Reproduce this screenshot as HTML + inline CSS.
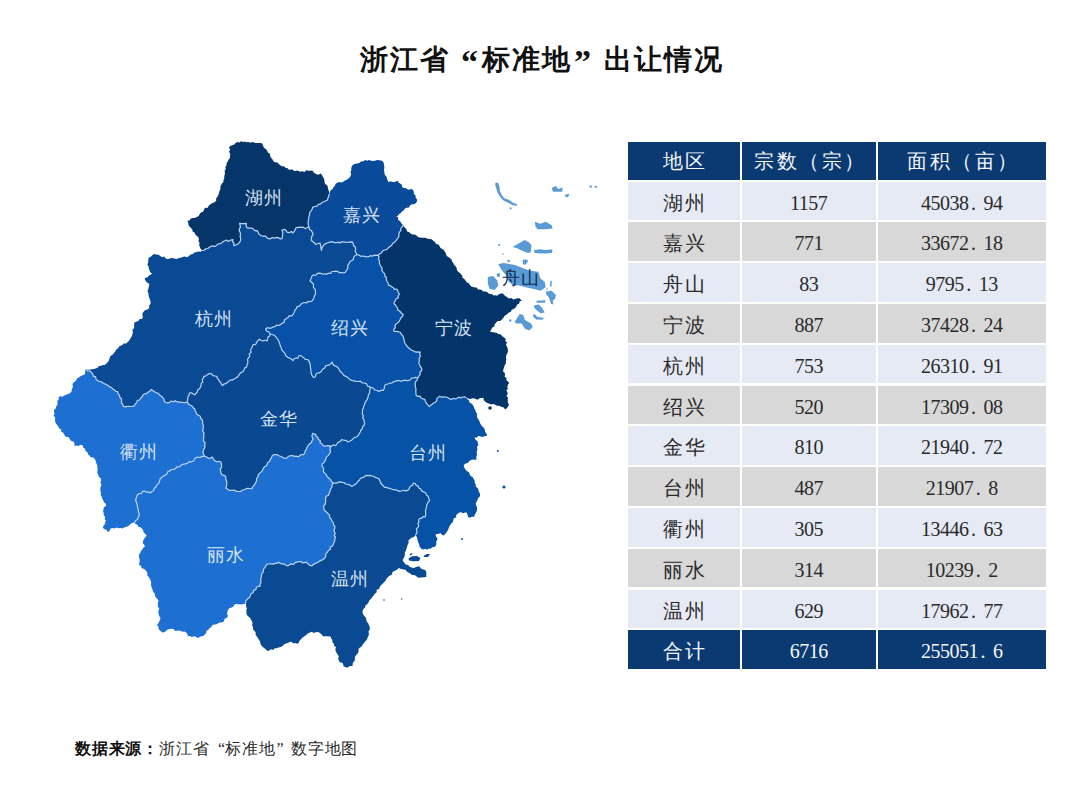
<!DOCTYPE html>
<html><head><meta charset="utf-8"><style>
html,body{margin:0;padding:0;background:#fff;}
body{width:1080px;height:810px;position:relative;overflow:hidden;font-family:"Liberation Serif",serif;}
.title{position:absolute;left:360px;top:40px;white-space:nowrap;font-size:28px;letter-spacing:2px;font-weight:bold;color:#111;line-height:40px;}
.q{display:inline-block;width:32px;font-size:34px;line-height:40px;vertical-align:top} .ql{text-align:right;padding-right:2px;box-sizing:border-box;position:relative;top:2px} .qr{text-align:left;padding-left:2px;box-sizing:border-box;position:relative;top:2px}
svg{position:absolute;left:0;top:0;}
.lab{position:absolute;width:60px;text-align:center;font-size:18px;line-height:20px;letter-spacing:1px;text-indent:1px}
.row{position:absolute;left:628px;height:38.5px;width:418px;}
.row div{position:absolute;top:0;height:38.5px;line-height:43px;text-align:center;font-size:20px;color:#2a2a2a;letter-spacing:-0.5px;text-indent:-0.5px}
.dt{display:inline-block;width:15px;padding-left:3px;box-sizing:border-box;text-align:left}
.row div.c1{letter-spacing:2.5px;text-indent:2.5px}
.h div.c2,.h div.c3{}
.hd div{letter-spacing:2.5px !important;text-indent:2.5px !important;line-height:38px !important}
.c1{left:0;width:112px;}
.c2{left:114px;width:134px;}
.c3{left:250px;width:168px;}
.l div{background:#e6eaf4;}
.g div{background:#d8d8d8;}
.h div{background:#0b3a72;color:#f4f6fa;}
.foot{position:absolute;left:75px;top:739px;font-size:16px;line-height:20px;color:#2a2a2a;letter-spacing:0.8px;white-space:nowrap}
.fq{display:inline-block;width:15.6px;letter-spacing:0} .fql{text-align:right} .fqr{text-align:left;padding-left:1px;box-sizing:border-box}
.foot b{font-weight:bold;color:#111}
</style></head><body>
<div class="title">浙江省<span class="q ql">“</span>标准地<span class="q qr">”</span>出让情况</div>
<svg width="1080" height="810" viewBox="0 0 1080 810">
<path d="M202.2 250.4 L200.4 248.5 L199.8 246.7 L199.1 244.9 L199.7 242.9 L198.4 241.2 L198.9 239.2 L198.5 237.4 L197.1 236.0 L195.4 234.8 L194.8 232.7 L192.8 231.7 L192.2 229.6 L191.0 228.0 L189.4 226.5 L188.5 224.7 L188.2 222.6 L187.4 220.7 L189.5 220.5 L190.9 218.6 L192.8 218.0 L194.9 218.0 L196.7 217.0 L198.7 216.1 L199.7 214.1 L200.9 212.4 L203.2 211.7 L204.0 209.6 L205.1 207.8 L207.5 208.0 L208.5 206.0 L209.9 204.7 L211.5 203.6 L213.2 202.8 L215.0 202.0 L216.3 200.4 L216.1 198.2 L217.5 196.7 L218.4 194.9 L219.0 193.0 L219.5 191.0 L220.4 189.3 L220.3 187.1 L221.0 185.2 L221.9 183.4 L223.4 181.9 L223.6 179.8 L224.4 178.0 L224.2 176.1 L224.9 174.3 L224.8 172.5 L224.7 170.6 L225.8 168.9 L225.4 167.0 L226.5 165.3 L226.5 163.2 L227.8 161.6 L228.5 159.7 L229.9 158.1 L230.0 156.0 L230.2 153.9 L229.1 151.8 L230.1 149.6 L229.0 147.6 L230.3 145.9 L232.2 145.2 L234.2 144.5 L235.6 143.0 L237.3 142.1 L239.3 142.4 L241.0 141.3 L243.0 142.1 L244.8 141.5 L246.6 142.2 L248.5 142.1 L250.2 142.8 L252.2 142.0 L254.0 142.6 L255.9 143.1 L257.7 143.0 L259.6 143.0 L261.5 143.0 L262.7 144.4 L263.2 146.3 L264.2 147.9 L265.9 148.9 L267.0 150.4 L267.9 152.4 L269.9 153.7 L270.1 156.1 L271.3 157.9 L272.6 159.6 L273.6 161.4 L275.2 162.2 L277.3 162.5 L278.6 163.8 L280.0 165.0 L281.7 166.2 L284.0 166.2 L285.4 167.8 L287.5 168.3 L289.0 169.8 L291.0 169.4 L292.9 169.7 L294.6 171.2 L296.7 170.4 L298.6 170.9 L300.4 171.7 L302.4 171.3 L304.5 171.9 L306.3 170.3 L308.4 170.7 L310.4 170.7 L312.4 170.4 L313.5 172.3 L315.1 173.5 L317.0 174.4 L319.0 174.6 L320.7 173.5 L322.0 174.9 L322.7 176.7 L323.7 178.2 L324.4 180.0 L324.5 182.1 L325.1 183.9 L327.1 185.2 L327.8 187.0 L328.0 189.0 L329.0 191.4 L329.0 194.0 L328.9 196.1 L328.0 198.0 L327.4 200.0 L324.4 201.5 L322.4 202.3 L320.7 203.8 L318.5 204.4 L316.9 206.2 L314.6 206.5 L312.6 207.4 L312.1 209.3 L311.0 211.1 L309.6 212.6 L309.6 214.8 L308.9 216.5 L308.8 218.4 L308.3 220.2 L308.1 222.0 L308.2 224.4 L308.9 226.7 L307.0 227.8 L305.2 228.6 L303.3 227.1 L301.5 227.3 L299.7 227.1 L297.8 227.3 L296.0 227.8 L295.2 229.6 L294.2 231.4 L293.0 233.0 L291.5 231.5 L289.4 232.6 L287.0 232.2 L286.1 230.6 L284.8 229.3 L281.9 230.0 L282.7 232.2 L282.7 234.4 L282.4 236.7 L281.9 238.9 L279.8 238.7 L278.1 237.4 L276.1 237.7 L274.2 238.2 L272.2 237.4 L270.0 238.9 L267.3 238.2 L265.6 236.0 L262.9 236.2 L260.4 235.2 L258.8 234.1 L258.2 232.3 L257.4 230.7 L255.2 230.8 L253.7 229.3 L251.6 228.1 L249.3 228.1 L247.0 227.8 L246.0 225.6 L246.3 223.3 L244.1 223.7 L241.8 223.6 L239.6 223.3 L240.0 225.1 L240.5 227.0 L239.4 228.9 L239.2 230.8 L240.3 232.5 L240.4 234.4 L240.2 236.5 L240.7 238.6 L240.5 240.6 L239.6 242.6 L237.8 243.9 L235.9 245.0 L233.7 245.6 L234.1 243.5 L232.6 241.7 L233.0 239.6 L230.0 240.4 L228.2 241.5 L226.2 240.0 L224.4 241.0 L222.5 241.9 L221.0 243.5 L218.8 243.8 L217.0 244.8 L215.5 246.3 L213.3 246.2 L211.2 246.2 L209.4 247.2 L207.8 248.5 L205.8 248.8 L204.2 250.2 Z" fill="#063569"/>
<path d="M329.0 194.0 L329.9 192.2 L330.7 190.2 L332.7 189.1 L333.4 187.2 L334.9 185.7 L335.6 183.7 L337.3 182.8 L339.0 182.0 L341.1 182.4 L342.9 182.1 L344.4 180.7 L346.3 180.1 L347.7 178.9 L349.2 177.9 L350.4 176.3 L351.1 174.3 L350.5 172.1 L351.3 170.1 L351.3 168.0 L351.9 166.0 L353.4 164.5 L355.3 163.7 L357.3 163.4 L359.3 163.0 L361.1 161.6 L363.4 161.3 L365.2 160.0 L367.2 160.8 L369.1 159.9 L371.1 160.8 L373.1 160.9 L375.0 160.8 L377.0 160.0 L379.1 160.3 L381.1 160.5 L383.0 161.5 L383.8 163.5 L384.1 165.6 L384.4 167.7 L383.9 169.8 L384.4 171.9 L384.5 173.9 L385.3 175.6 L386.7 177.0 L387.1 178.9 L387.7 180.7 L388.9 182.2 L390.6 181.2 L392.5 181.9 L394.4 182.0 L396.1 181.5 L397.8 180.7 L398.6 182.5 L400.2 183.6 L401.8 184.8 L402.1 186.9 L403.7 188.1 L405.5 188.1 L407.2 189.2 L408.9 189.8 L410.9 189.1 L412.6 189.6 L413.8 191.5 L413.9 194.0 L415.6 195.6 L415.7 197.7 L417.1 199.4 L417.0 201.5 L415.7 203.2 L414.0 204.2 L411.6 204.2 L410.0 205.5 L409.0 207.6 L406.7 207.7 L404.9 208.6 L403.7 210.4 L402.0 211.4 L400.9 213.0 L399.2 213.9 L398.2 215.6 L396.3 216.3 L398.2 217.3 L398.1 220.0 L400.0 221.0 L401.3 223.2 L403.0 225.0 L402.2 226.8 L400.8 228.4 L400.9 230.6 L399.4 232.2 L398.7 234.1 L399.0 236.3 L397.8 238.0 L396.8 239.7 L395.5 241.1 L394.2 242.6 L392.5 243.6 L391.6 245.4 L390.0 246.5 L388.3 247.8 L386.9 249.4 L384.8 250.0 L382.7 250.7 L381.6 252.8 L379.7 254.0 L378.0 255.2 L376.1 255.4 L374.1 255.1 L372.4 256.2 L370.3 255.7 L368.6 256.7 L366.7 257.0 L364.8 256.4 L362.8 256.0 L360.7 256.3 L358.9 255.1 L357.0 254.5 L356.0 252.8 L355.2 251.0 L355.6 248.9 L355.3 247.0 L353.6 245.8 L353.3 243.9 L352.6 242.2 L350.8 241.8 L349.0 242.1 L347.1 242.5 L345.3 242.2 L343.5 242.1 L341.7 241.7 L339.8 242.9 L338.0 242.1 L336.2 242.7 L334.4 242.6 L332.5 241.7 L330.7 242.2 L328.9 242.2 L326.6 243.2 L324.4 244.4 L323.0 246.2 L321.8 248.1 L321.5 250.4 L321.0 248.6 L320.9 246.7 L320.4 244.8 L320.0 243.0 L317.7 243.7 L315.5 244.4 L314.3 242.7 L312.5 241.5 L311.1 240.0 L311.5 238.2 L311.8 236.3 L313.0 234.6 L312.6 232.6 L311.4 230.8 L309.6 229.6 L308.9 226.7 L308.2 224.4 L308.1 222.0 L308.3 220.2 L308.8 218.4 L308.9 216.5 L309.6 214.8 L309.6 212.6 L311.0 211.1 L312.1 209.3 L312.6 207.4 L314.6 206.5 L316.9 206.2 L318.5 204.4 L320.7 203.8 L322.4 202.3 L324.4 201.5 L327.4 200.0 L328.0 198.0 L328.9 196.1 Z" fill="#0a4a9a"/>
<path d="M202.2 250.4 L204.2 250.2 L205.8 248.8 L207.8 248.5 L209.4 247.2 L211.2 246.2 L213.3 246.2 L215.5 246.3 L217.0 244.8 L218.8 243.8 L221.0 243.5 L222.5 241.9 L224.4 241.0 L226.2 240.0 L228.2 241.5 L230.0 240.4 L233.0 239.6 L232.6 241.7 L234.1 243.5 L233.7 245.6 L235.9 245.0 L237.8 243.9 L239.6 242.6 L240.5 240.6 L240.7 238.6 L240.2 236.5 L240.4 234.4 L240.3 232.5 L239.2 230.8 L239.4 228.9 L240.5 227.0 L240.0 225.1 L239.6 223.3 L241.8 223.6 L244.1 223.7 L246.3 223.3 L246.0 225.6 L247.0 227.8 L249.3 228.1 L251.6 228.1 L253.7 229.3 L255.2 230.8 L257.4 230.7 L258.2 232.3 L258.8 234.1 L260.4 235.2 L262.9 236.2 L265.6 236.0 L267.3 238.2 L270.0 238.9 L272.2 237.4 L274.2 238.2 L276.1 237.7 L278.1 237.4 L279.8 238.7 L281.9 238.9 L282.4 236.7 L282.7 234.4 L282.7 232.2 L281.9 230.0 L284.8 229.3 L286.1 230.6 L287.0 232.2 L289.4 232.6 L291.5 231.5 L293.0 233.0 L294.2 231.4 L295.2 229.6 L296.0 227.8 L297.8 227.3 L299.7 227.1 L301.5 227.3 L303.3 227.1 L305.2 228.6 L307.0 227.8 L308.9 226.7 L309.6 229.6 L311.4 230.8 L312.6 232.6 L313.0 234.6 L311.8 236.3 L311.5 238.2 L311.1 240.0 L312.5 241.5 L314.3 242.7 L315.5 244.4 L317.7 243.7 L320.0 243.0 L320.4 244.8 L320.9 246.7 L321.0 248.6 L321.5 250.4 L321.8 248.1 L323.0 246.2 L324.4 244.4 L326.6 243.2 L328.9 242.2 L330.7 242.2 L332.5 241.7 L334.4 242.6 L336.2 242.7 L338.0 242.1 L339.8 242.9 L341.7 241.7 L343.5 242.1 L345.3 242.2 L347.1 242.5 L349.0 242.1 L350.8 241.8 L352.6 242.2 L353.3 243.9 L353.6 245.8 L355.3 247.0 L355.6 248.9 L355.2 251.0 L356.0 252.8 L357.0 254.5 L355.1 255.6 L353.7 257.2 L353.3 259.5 L351.5 260.8 L349.6 261.9 L348.9 264.0 L347.6 265.4 L348.0 267.6 L347.3 269.3 L346.0 270.8 L345.2 272.4 L343.3 273.0 L341.4 272.6 L339.5 272.7 L337.8 271.5 L335.9 271.1 L334.0 271.5 L331.9 271.5 L330.6 273.5 L328.4 273.2 L326.7 274.3 L324.8 273.7 L322.8 274.3 L321.0 273.3 L319.0 273.2 L317.1 273.6 L315.7 275.5 L313.5 274.8 L311.9 276.1 L311.1 278.5 L310.0 280.7 L311.9 282.5 L313.7 284.4 L313.2 286.4 L313.9 288.2 L315.4 289.9 L315.3 291.8 L315.6 293.7 L314.6 295.5 L314.0 297.5 L313.3 299.4 L311.9 301.0 L310.1 301.7 L308.1 301.4 L306.5 303.0 L304.4 302.5 L302.6 303.0 L300.8 304.3 L299.3 306.2 L297.0 306.7 L296.3 308.7 L295.0 310.2 L294.2 312.2 L293.3 314.0 L291.9 315.9 L289.1 315.8 L287.8 317.8 L286.0 318.8 L284.4 319.9 L284.1 322.4 L282.2 323.3 L280.5 324.4 L278.8 325.5 L276.5 325.1 L275.0 326.6 L273.0 327.0 L271.3 328.1 L269.3 328.1 L267.3 327.7 L265.6 328.9 L266.6 331.0 L268.9 332.0 L270.0 334.0 L269.8 336.0 L267.8 337.2 L267.6 339.2 L267.0 341.0 L265.2 340.2 L263.1 340.9 L261.3 340.5 L259.6 339.3 L257.9 340.5 L256.7 342.4 L255.7 344.3 L253.1 344.7 L252.2 346.7 L251.4 348.5 L250.5 350.2 L251.1 352.5 L249.1 353.9 L249.9 356.2 L248.5 357.8 L247.5 359.5 L247.9 361.5 L247.7 363.4 L247.0 365.1 L246.7 367.0 L244.7 367.9 L244.1 370.1 L242.9 371.7 L241.0 372.6 L239.6 373.9 L238.6 375.6 L237.4 377.1 L235.6 378.0 L233.9 379.2 L232.1 380.1 L230.0 380.0 L228.8 381.5 L227.2 382.5 L225.8 383.6 L223.8 384.1 L222.6 385.6 L221.3 384.2 L220.7 382.5 L219.3 381.2 L218.6 379.5 L217.2 378.3 L217.0 376.3 L215.0 376.0 L213.0 375.7 L211.6 373.8 L209.6 373.5 L207.7 374.4 L206.1 375.9 L204.0 376.3 L203.4 378.2 L202.1 379.8 L202.9 382.1 L201.1 383.5 L201.1 385.6 L200.4 387.4 L199.3 388.9 L197.7 390.0 L197.2 392.0 L195.9 393.3 L194.8 394.8 L193.1 393.9 L191.4 392.8 L189.3 393.0 L189.2 394.9 L188.0 396.6 L187.8 398.4 L187.5 400.3 L187.4 402.2 L184.4 402.6 L182.5 402.4 L180.6 402.1 L178.6 402.2 L176.7 401.7 L175.0 400.7 L173.4 401.8 L171.3 401.0 L169.7 402.3 L167.9 402.8 L166.0 402.6 L164.2 401.5 L164.0 399.1 L162.8 397.5 L161.2 396.2 L159.4 395.1 L158.5 393.3 L156.4 392.8 L154.6 391.8 L152.8 390.6 L151.0 389.6 L149.9 391.3 L148.0 392.1 L146.7 393.6 L144.4 393.9 L142.9 395.1 L141.9 397.0 L140.5 398.3 L139.6 400.0 L137.3 400.4 L136.8 402.6 L135.4 403.8 L134.6 405.6 L132.6 406.3 L130.7 406.5 L128.9 406.3 L127.0 406.3 L125.2 406.8 L123.3 406.3 L122.9 404.5 L121.5 402.9 L121.5 400.9 L121.5 399.0 L119.9 397.5 L119.5 395.3 L118.0 393.7 L117.8 391.5 L115.8 391.3 L114.5 390.0 L112.9 389.2 L111.7 387.7 L110.1 386.9 L108.5 386.0 L106.9 384.7 L104.9 383.9 L103.1 382.9 L101.4 381.7 L99.2 381.5 L97.4 380.4 L95.9 379.0 L95.6 376.7 L93.2 376.1 L92.8 373.9 L91.4 372.4 L90.0 371.0 L87.4 370.9 L85.4 369.3 L87.5 369.8 L89.6 369.8 L91.6 369.2 L93.7 368.9 L95.7 368.5 L97.6 367.8 L99.0 365.9 L101.1 365.7 L103.0 364.9 L105.1 364.7 L106.7 363.3 L108.1 361.7 L109.1 359.9 L109.6 357.9 L110.4 356.0 L112.4 355.0 L113.6 353.2 L115.1 351.7 L116.0 349.7 L117.8 348.5 L118.9 346.7 L120.6 345.8 L122.4 345.1 L123.7 343.6 L126.1 343.6 L127.4 342.2 L128.9 341.0 L130.0 339.3 L131.0 337.5 L132.0 335.7 L132.6 333.7 L132.9 331.8 L132.3 329.9 L134.0 328.2 L134.2 326.4 L134.1 324.5 L134.4 322.6 L136.3 321.7 L138.3 321.0 L139.7 319.1 L141.9 318.9 L142.8 317.2 L142.4 315.1 L142.5 313.2 L143.7 311.5 L145.3 309.9 L147.7 309.4 L149.3 307.8 L149.0 305.9 L150.2 304.2 L150.8 302.4 L150.2 300.4 L149.6 298.5 L148.9 296.7 L148.5 294.8 L148.3 292.8 L147.4 291.0 L148.3 289.3 L148.6 287.4 L149.1 285.6 L149.3 283.7 L147.2 282.7 L145.7 281.0 L144.6 279.0 L145.8 277.5 L147.8 277.2 L148.8 275.4 L150.6 274.7 L152.0 273.5 L150.3 272.2 L149.5 270.5 L148.9 268.6 L148.6 266.6 L147.4 265.0 L148.0 262.9 L148.3 260.8 L148.3 258.7 L149.5 257.2 L151.1 256.4 L152.5 255.1 L153.9 254.0 L156.1 254.6 L158.4 254.7 L160.4 256.0 L162.0 257.2 L164.2 256.6 L165.7 258.4 L167.5 258.9 L169.6 258.7 L171.4 257.7 L173.3 258.3 L175.2 258.8 L177.1 258.9 L178.8 257.9 L180.7 257.8 L182.7 256.9 L184.7 256.4 L187.1 257.2 L189.0 256.0 L190.7 254.5 L192.9 254.1 L194.5 252.4 L196.7 252.0 L198.5 251.5 L200.6 251.7 Z" fill="#0a4994"/>
<path d="M357.0 254.5 L358.9 255.1 L360.7 256.3 L362.8 256.0 L364.8 256.4 L366.7 257.0 L368.6 256.7 L370.3 255.7 L372.4 256.2 L374.1 255.1 L376.1 255.4 L378.0 255.2 L379.1 256.9 L378.4 259.2 L379.5 261.0 L379.3 263.0 L380.1 264.9 L381.0 266.7 L382.2 268.4 L381.9 270.7 L383.3 272.3 L384.8 273.8 L384.8 276.0 L386.4 277.5 L386.3 279.7 L387.1 281.5 L388.1 283.2 L388.5 285.2 L390.4 285.6 L391.7 286.8 L393.3 287.7 L394.4 289.4 L396.7 289.0 L397.8 290.7 L398.3 292.7 L399.6 294.4 L398.1 295.6 L398.3 297.9 L396.1 298.7 L395.5 300.4 L394.3 301.8 L394.0 303.7 L395.4 304.9 L396.4 306.5 L397.5 308.0 L397.8 310.1 L399.6 311.0 L401.3 313.0 L403.3 314.8 L402.3 316.5 L401.0 317.9 L400.0 319.7 L399.1 321.4 L397.8 322.9 L396.0 324.0 L394.9 325.7 L395.4 327.8 L393.7 329.4 L394.0 331.5 L396.2 331.4 L398.4 331.7 L400.5 332.5 L401.4 334.4 L402.9 336.0 L403.5 338.0 L404.2 340.0 L404.4 342.2 L405.5 344.0 L406.6 345.7 L408.0 347.3 L409.9 348.7 L411.6 350.4 L414.0 351.0 L415.9 352.2 L418.1 351.9 L420.2 352.2 L419.6 354.1 L420.5 356.2 L419.1 358.0 L419.3 360.1 L419.0 362.0 L419.1 363.9 L419.8 365.6 L420.9 367.1 L421.8 368.7 L421.5 370.7 L419.9 372.2 L420.2 374.7 L418.8 376.2 L417.8 378.0 L415.7 377.4 L413.7 377.9 L411.6 378.0 L410.4 379.7 L408.7 380.4 L406.7 380.6 L404.9 380.1 L403.0 380.6 L401.1 381.3 L399.3 380.6 L397.3 380.7 L395.4 381.2 L393.6 381.8 L391.9 383.0 L389.8 383.2 L387.8 384.0 L385.7 384.3 L384.5 386.2 L384.3 388.5 L383.2 390.5 L381.1 390.1 L379.1 391.4 L377.0 390.5 L375.0 390.0 L373.5 388.3 L371.6 387.5 L369.6 386.8 L367.5 386.1 L366.6 383.9 L364.7 383.0 L362.4 383.0 L360.4 381.2 L358.0 381.5 L356.1 381.3 L354.2 380.8 L352.3 380.6 L350.3 379.8 L348.6 378.4 L347.0 377.0 L345.3 376.1 L343.6 375.2 L342.5 373.7 L341.2 372.2 L339.8 371.0 L339.0 369.1 L337.7 367.5 L336.2 366.2 L334.0 365.6 L332.8 363.9 L332.0 362.0 L330.9 363.6 L329.6 364.9 L327.6 365.3 L325.7 365.9 L325.0 367.8 L323.4 368.8 L322.0 370.0 L321.1 371.8 L319.4 372.8 L317.2 373.1 L315.8 374.4 L315.4 376.8 L313.5 377.5 L312.1 375.6 L311.1 373.5 L311.0 371.0 L310.7 369.0 L310.4 367.0 L310.2 364.9 L309.8 362.9 L309.0 361.0 L307.6 359.5 L305.2 359.3 L303.8 357.9 L302.2 356.6 L300.5 355.5 L298.6 355.9 L298.0 358.2 L295.8 358.2 L294.1 358.8 L293.0 360.5 L291.4 359.1 L289.6 358.1 L287.7 357.2 L286.0 356.0 L285.1 354.1 L284.1 352.3 L282.6 350.8 L281.4 349.1 L281.0 347.0 L280.1 345.4 L279.7 343.5 L278.9 341.8 L278.3 340.0 L277.1 338.5 L276.0 337.0 L274.3 335.3 L272.2 334.5 L270.0 334.0 L268.9 332.0 L266.6 331.0 L265.6 328.9 L267.3 327.7 L269.3 328.1 L271.3 328.1 L273.0 327.0 L275.0 326.6 L276.5 325.1 L278.8 325.5 L280.5 324.4 L282.2 323.3 L284.1 322.4 L284.4 319.9 L286.0 318.8 L287.8 317.8 L289.1 315.8 L291.9 315.9 L293.3 314.0 L294.2 312.2 L295.0 310.2 L296.3 308.7 L297.0 306.7 L299.3 306.2 L300.8 304.3 L302.6 303.0 L304.4 302.5 L306.5 303.0 L308.1 301.4 L310.1 301.7 L311.9 301.0 L313.3 299.4 L314.0 297.5 L314.6 295.5 L315.6 293.7 L315.3 291.8 L315.4 289.9 L313.9 288.2 L313.2 286.4 L313.7 284.4 L311.9 282.5 L310.0 280.7 L311.1 278.5 L311.9 276.1 L313.5 274.8 L315.7 275.5 L317.1 273.6 L319.0 273.2 L321.0 273.3 L322.8 274.3 L324.8 273.7 L326.7 274.3 L328.4 273.2 L330.6 273.5 L331.9 271.5 L334.0 271.5 L335.9 271.1 L337.8 271.5 L339.5 272.7 L341.4 272.6 L343.3 273.0 L345.2 272.4 L346.0 270.8 L347.3 269.3 L348.0 267.6 L347.6 265.4 L348.9 264.0 L349.6 261.9 L351.5 260.8 L353.3 259.5 L353.7 257.2 L355.1 255.6 Z" fill="#0751a8"/>
<path d="M403.0 225.0 L403.8 226.8 L405.3 228.1 L406.6 229.5 L407.0 231.5 L409.0 232.0 L410.6 233.6 L412.3 234.6 L414.6 234.5 L416.5 235.4 L418.0 237.0 L419.9 237.4 L421.7 237.8 L423.7 237.8 L425.6 237.8 L427.4 238.8 L429.3 238.9 L431.6 239.2 L433.2 240.8 L434.9 242.1 L436.2 244.0 L438.5 244.4 L439.5 246.1 L440.5 247.9 L442.3 249.0 L443.9 250.3 L445.1 251.9 L446.0 253.7 L446.6 255.8 L448.1 257.0 L449.9 258.1 L451.5 259.4 L452.1 261.4 L453.3 263.0 L454.0 264.7 L455.3 266.0 L456.5 267.4 L456.8 269.3 L457.4 271.1 L459.0 272.2 L460.6 273.8 L462.1 275.5 L462.6 277.8 L464.3 279.1 L465.7 280.7 L466.8 282.5 L468.9 283.3 L470.0 285.2 L471.4 286.4 L473.1 287.1 L474.9 287.4 L476.8 287.6 L477.9 289.6 L479.9 289.6 L481.8 290.0 L483.1 291.6 L485.3 291.4 L487.0 292.1 L488.5 293.3 L490.1 294.3 L492.1 293.9 L493.5 295.6 L495.5 295.3 L497.2 295.8 L498.6 294.5 L500.2 293.7 L502.1 293.3 L503.8 294.4 L505.2 296.0 L507.0 297.0 L508.8 298.6 L511.4 298.1 L513.2 299.5 L515.2 298.9 L517.2 298.2 L519.4 298.3 L521.9 300.7 L519.8 301.3 L519.0 303.7 L517.0 304.4 L516.4 306.4 L515.1 307.9 L513.4 309.0 L511.4 309.9 L510.7 311.9 L508.8 312.6 L507.5 314.0 L505.7 314.9 L504.3 316.2 L503.3 318.0 L501.8 319.5 L500.2 320.9 L497.7 321.1 L496.2 322.6 L494.7 324.2 L494.2 326.5 L492.0 327.7 L491.2 329.9 L489.8 331.6 L492.0 332.0 L494.2 332.5 L496.4 332.8 L498.4 334.0 L500.8 334.5 L502.3 336.2 L504.1 337.5 L505.8 339.0 L505.3 341.0 L507.1 342.6 L505.9 344.7 L507.0 346.4 L507.8 348.9 L508.0 351.1 L507.5 353.1 L506.3 355.1 L506.0 357.1 L506.3 359.3 L505.8 361.4 L505.9 363.6 L504.5 365.5 L504.1 367.6 L503.3 369.6 L503.1 371.5 L504.8 372.9 L505.0 374.7 L504.6 376.7 L506.6 378.0 L506.3 380.0 L507.9 381.4 L509.3 383.0 L508.0 384.6 L507.4 386.5 L507.8 388.9 L506.3 390.4 L507.4 392.0 L507.7 393.8 L506.5 395.9 L507.9 397.4 L507.8 399.3 L507.8 401.2 L508.0 403.1 L509.1 404.7 L508.0 406.5 L506.8 408.2 L505.2 409.6 L503.7 407.5 L501.2 406.7 L499.3 405.8 L497.1 405.8 L495.3 404.7 L493.4 404.0 L491.3 404.4 L489.4 403.7 L487.2 403.1 L485.4 401.7 L483.6 400.1 L483.5 397.8 L481.4 398.0 L479.3 398.4 L477.5 399.8 L475.7 399.1 L474.0 398.2 L472.0 398.5 L470.0 399.1 L468.1 398.5 L466.3 397.8 L464.5 396.9 L462.6 397.0 L460.7 398.1 L458.9 397.0 L457.3 398.2 L455.5 399.0 L453.3 398.4 L451.5 399.3 L449.5 398.9 L447.7 397.5 L445.7 397.0 L443.7 396.9 L441.5 397.2 L439.6 396.3 L438.1 397.4 L436.8 398.8 L436.7 401.0 L435.2 402.2 L433.6 403.1 L432.1 404.2 L430.6 405.3 L429.3 406.7 L428.0 405.0 L426.6 403.3 L425.4 401.5 L424.8 399.3 L422.8 398.8 L421.0 398.0 L419.8 396.1 L417.4 396.4 L416.0 394.8 L415.9 393.0 L415.8 391.1 L416.0 389.2 L415.6 387.4 L415.3 385.6 L415.1 383.4 L415.8 381.5 L417.2 379.9 L417.8 378.0 L418.8 376.2 L420.2 374.7 L419.9 372.2 L421.5 370.7 L421.8 368.7 L420.9 367.1 L419.8 365.6 L419.1 363.9 L419.0 362.0 L419.3 360.1 L419.1 358.0 L420.5 356.2 L419.6 354.1 L420.2 352.2 L418.1 351.9 L415.9 352.2 L414.0 351.0 L411.6 350.4 L409.9 348.7 L408.0 347.3 L406.6 345.7 L405.5 344.0 L404.4 342.2 L404.2 340.0 L403.5 338.0 L402.9 336.0 L401.4 334.4 L400.5 332.5 L398.4 331.7 L396.2 331.4 L394.0 331.5 L393.7 329.4 L395.4 327.8 L394.9 325.7 L396.0 324.0 L397.8 322.9 L399.1 321.4 L400.0 319.7 L401.0 317.9 L402.3 316.5 L403.3 314.8 L401.3 313.0 L399.6 311.0 L397.8 310.1 L397.5 308.0 L396.4 306.5 L395.4 304.9 L394.0 303.7 L394.3 301.8 L395.5 300.4 L396.1 298.7 L398.3 297.9 L398.1 295.6 L399.6 294.4 L398.3 292.7 L397.8 290.7 L396.7 289.0 L394.4 289.4 L393.3 287.7 L391.7 286.8 L390.4 285.6 L388.5 285.2 L388.1 283.2 L387.1 281.5 L386.3 279.7 L386.4 277.5 L384.8 276.0 L384.8 273.8 L383.3 272.3 L381.9 270.7 L382.2 268.4 L381.0 266.7 L380.1 264.9 L379.3 263.0 L379.5 261.0 L378.4 259.2 L379.1 256.9 L378.0 255.2 L379.7 254.0 L381.6 252.8 L382.7 250.7 L384.8 250.0 L386.9 249.4 L388.3 247.8 L390.0 246.5 L391.6 245.4 L392.5 243.6 L394.2 242.6 L395.5 241.1 L396.8 239.7 L397.8 238.0 L399.0 236.3 L398.7 234.1 L399.4 232.2 L400.9 230.6 L400.8 228.4 L402.2 226.8 Z" fill="#03356a"/>
<path d="M270.0 334.0 L272.2 334.5 L274.3 335.3 L276.0 337.0 L277.1 338.5 L278.3 340.0 L278.9 341.8 L279.7 343.5 L280.1 345.4 L281.0 347.0 L281.4 349.1 L282.6 350.8 L284.1 352.3 L285.1 354.1 L286.0 356.0 L287.7 357.2 L289.6 358.1 L291.4 359.1 L293.0 360.5 L294.1 358.8 L295.8 358.2 L298.0 358.2 L298.6 355.9 L300.5 355.5 L302.2 356.6 L303.8 357.9 L305.2 359.3 L307.6 359.5 L309.0 361.0 L309.8 362.9 L310.2 364.9 L310.4 367.0 L310.7 369.0 L311.0 371.0 L311.1 373.5 L312.1 375.6 L313.5 377.5 L315.4 376.8 L315.8 374.4 L317.2 373.1 L319.4 372.8 L321.1 371.8 L322.0 370.0 L323.4 368.8 L325.0 367.8 L325.7 365.9 L327.6 365.3 L329.6 364.9 L330.9 363.6 L332.0 362.0 L332.8 363.9 L334.0 365.6 L336.2 366.2 L337.7 367.5 L339.0 369.1 L339.8 371.0 L341.2 372.2 L342.5 373.7 L343.6 375.2 L345.3 376.1 L347.0 377.0 L348.6 378.4 L350.3 379.8 L352.3 380.6 L354.2 380.8 L356.1 381.3 L358.0 381.5 L360.4 381.2 L362.4 383.0 L364.7 383.0 L366.6 383.9 L367.5 386.1 L369.6 386.8 L370.3 388.9 L369.6 390.9 L369.6 393.0 L368.4 394.7 L368.1 396.7 L367.6 398.7 L366.5 400.4 L365.3 402.1 L364.7 404.0 L363.9 405.9 L363.3 407.9 L362.6 409.8 L362.4 411.9 L362.2 414.0 L363.4 415.8 L362.6 418.1 L364.1 419.8 L364.1 421.9 L364.7 423.8 L364.0 425.5 L362.5 426.7 L362.4 428.7 L361.0 430.0 L360.3 432.0 L359.1 433.7 L358.1 435.6 L356.5 437.0 L354.4 437.4 L353.0 438.9 L351.5 440.3 L349.7 441.2 L347.9 442.0 L346.2 440.3 L343.8 440.3 L341.7 439.5 L340.5 441.4 L338.3 442.2 L336.9 444.0 L335.6 445.7 L333.5 444.8 L331.5 446.4 L329.4 445.7 L327.3 445.5 L325.3 446.3 L323.2 445.7 L322.1 444.1 L320.2 443.0 L320.2 440.5 L318.3 439.5 L317.9 437.6 L316.3 436.4 L315.8 434.6 L312.7 433.3 L312.0 435.1 L312.1 437.0 L313.1 438.9 L312.0 440.7 L311.3 442.7 L309.5 443.8 L308.2 445.3 L307.2 447.0 L306.5 449.0 L305.2 450.9 L304.7 453.0 L303.6 454.6 L301.4 454.6 L299.8 455.5 L298.5 456.8 L296.5 456.2 L294.3 456.3 L292.3 455.6 L290.3 455.7 L288.4 456.3 L286.9 457.9 L285.0 458.3 L282.9 457.6 L281.0 456.5 L278.9 455.8 L276.6 454.5 L274.0 454.6 L272.1 455.8 L271.5 457.9 L270.2 459.5 L269.7 461.3 L267.9 462.3 L267.1 464.0 L266.5 465.7 L264.2 467.1 L262.8 469.4 L261.8 471.4 L260.1 472.9 L258.4 474.5 L257.9 476.8 L256.6 478.7 L256.5 481.0 L255.4 483.0 L254.3 485.1 L252.6 486.8 L251.7 489.0 L249.7 488.5 L247.6 488.4 L245.6 489.0 L243.8 489.7 L242.0 490.3 L240.6 491.6 L238.4 491.5 L236.3 491.2 L234.2 490.0 L232.0 490.4 L229.6 490.3 L227.7 489.2 L225.8 487.9 L226.6 485.9 L226.7 483.8 L227.0 481.7 L225.8 479.4 L225.8 476.8 L224.3 475.4 L222.1 474.9 L220.9 473.0 L220.8 471.2 L220.0 469.3 L221.5 467.5 L221.6 465.7 L221.3 463.8 L220.9 462.0 L219.1 461.2 L217.2 462.0 L215.0 460.9 L213.4 459.1 L212.2 457.0 L210.5 458.2 L208.5 458.3 L206.5 457.1 L204.5 456.0 L203.4 454.0 L203.1 451.8 L203.6 449.6 L204.9 447.3 L204.8 444.7 L205.1 442.7 L203.5 440.8 L203.5 438.8 L203.9 436.8 L203.6 434.8 L204.1 432.9 L202.5 431.2 L203.1 429.3 L203.3 427.4 L203.4 425.5 L202.6 423.7 L202.7 421.8 L202.3 420.0 L200.9 418.5 L200.3 416.3 L198.5 415.2 L196.8 414.2 L196.1 412.4 L195.1 410.8 L194.8 408.8 L193.0 407.8 L192.0 406.0 L190.2 405.0 L188.3 404.1 L187.4 402.2 L187.5 400.3 L187.8 398.4 L188.0 396.6 L189.2 394.9 L189.3 393.0 L191.4 392.8 L193.1 393.9 L194.8 394.8 L195.9 393.3 L197.2 392.0 L197.7 390.0 L199.3 388.9 L200.4 387.4 L201.1 385.6 L201.1 383.5 L202.9 382.1 L202.1 379.8 L203.4 378.2 L204.0 376.3 L206.1 375.9 L207.7 374.4 L209.6 373.5 L211.6 373.8 L213.0 375.7 L215.0 376.0 L217.0 376.3 L217.2 378.3 L218.6 379.5 L219.3 381.2 L220.7 382.5 L221.3 384.2 L222.6 385.6 L223.8 384.1 L225.8 383.6 L227.2 382.5 L228.8 381.5 L230.0 380.0 L232.1 380.1 L233.9 379.2 L235.6 378.0 L237.4 377.1 L238.6 375.6 L239.6 373.9 L241.0 372.6 L242.9 371.7 L244.1 370.1 L244.7 367.9 L246.7 367.0 L247.0 365.1 L247.7 363.4 L247.9 361.5 L247.5 359.5 L248.5 357.8 L249.9 356.2 L249.1 353.9 L251.1 352.5 L250.5 350.2 L251.4 348.5 L252.2 346.7 L253.1 344.7 L255.7 344.3 L256.7 342.4 L257.9 340.5 L259.6 339.3 L261.3 340.5 L263.1 340.9 L265.2 340.2 L267.0 341.0 L267.6 339.2 L267.8 337.2 L269.8 336.0 Z" fill="#0a4892"/>
<path d="M85.4 369.3 L87.4 370.9 L90.0 371.0 L91.4 372.4 L92.8 373.9 L93.2 376.1 L95.6 376.7 L95.9 379.0 L97.4 380.4 L99.2 381.5 L101.4 381.7 L103.1 382.9 L104.9 383.9 L106.9 384.7 L108.5 386.0 L110.1 386.9 L111.7 387.7 L112.9 389.2 L114.5 390.0 L115.8 391.3 L117.8 391.5 L118.0 393.7 L119.5 395.3 L119.9 397.5 L121.5 399.0 L121.5 400.9 L121.5 402.9 L122.9 404.5 L123.3 406.3 L125.2 406.8 L127.0 406.3 L128.9 406.3 L130.7 406.5 L132.6 406.3 L134.6 405.6 L135.4 403.8 L136.8 402.6 L137.3 400.4 L139.6 400.0 L140.5 398.3 L141.9 397.0 L142.9 395.1 L144.4 393.9 L146.7 393.6 L148.0 392.1 L149.9 391.3 L151.0 389.6 L152.8 390.6 L154.6 391.8 L156.4 392.8 L158.5 393.3 L159.4 395.1 L161.2 396.2 L162.8 397.5 L164.0 399.1 L164.2 401.5 L166.0 402.6 L167.9 402.8 L169.7 402.3 L171.3 401.0 L173.4 401.8 L175.0 400.7 L176.7 401.7 L178.6 402.2 L180.6 402.1 L182.5 402.4 L184.4 402.6 L187.4 402.2 L188.3 404.1 L190.2 405.0 L192.0 406.0 L193.0 407.8 L194.8 408.8 L195.1 410.8 L196.1 412.4 L196.8 414.2 L198.5 415.2 L200.3 416.3 L200.9 418.5 L202.3 420.0 L202.7 421.8 L202.6 423.7 L203.4 425.5 L203.3 427.4 L203.1 429.3 L202.5 431.2 L204.1 432.9 L203.6 434.8 L203.9 436.8 L203.5 438.8 L203.5 440.8 L205.1 442.7 L204.8 444.7 L204.9 447.3 L203.6 449.6 L203.1 451.8 L203.4 454.0 L204.5 456.0 L202.1 456.4 L199.9 457.5 L197.4 457.0 L195.0 458.3 L193.7 460.7 L191.7 461.8 L189.2 461.8 L187.4 463.3 L185.1 463.9 L182.7 464.3 L180.7 465.6 L179.1 467.0 L176.8 466.9 L175.4 468.7 L173.4 469.4 L171.2 469.5 L169.6 471.0 L167.7 471.8 L166.9 473.9 L165.3 475.1 L163.6 476.1 L161.9 477.2 L160.4 478.5 L159.7 480.4 L159.2 482.4 L158.1 484.0 L156.4 485.4 L155.9 487.4 L154.0 488.3 L153.7 490.8 L151.7 491.5 L150.4 493.0 L148.7 491.9 L146.4 492.4 L144.8 491.0 L142.7 491.4 L141.4 493.5 L139.2 493.7 L137.4 494.8 L136.7 496.6 L136.0 498.5 L135.6 500.4 L136.5 502.2 L136.9 504.1 L137.4 506.0 L137.6 507.8 L138.3 509.6 L138.3 511.5 L139.0 513.2 L139.3 515.0 L138.2 517.0 L137.7 519.3 L135.6 520.6 L134.6 522.6 L132.5 522.8 L130.9 523.7 L129.5 525.1 L128.0 526.3 L126.2 527.0 L124.4 527.3 L122.7 528.4 L120.7 528.0 L118.6 528.3 L116.6 527.6 L114.5 528.6 L112.4 528.0 L110.3 528.7 L109.6 530.9 L107.8 531.9 L106.6 530.1 L104.7 529.2 L103.0 528.0 L103.3 526.0 L104.7 524.4 L105.1 522.5 L106.0 520.7 L104.6 519.1 L105.2 516.9 L103.7 515.3 L103.8 513.3 L103.0 511.5 L103.5 509.5 L103.7 507.4 L105.9 506.1 L106.0 504.0 L104.2 502.6 L103.3 500.4 L102.2 498.5 L101.7 496.6 L100.6 494.9 L101.1 492.8 L100.4 491.0 L100.3 488.9 L100.6 486.8 L101.5 484.7 L100.4 482.5 L101.0 480.4 L100.8 478.3 L98.9 476.9 L98.5 474.9 L97.4 473.2 L97.4 471.0 L97.7 469.1 L97.3 467.2 L97.3 465.4 L96.5 463.6 L95.8 461.8 L95.5 460.0 L94.3 458.5 L92.8 457.3 L90.5 457.2 L89.5 455.5 L88.0 454.4 L87.5 452.2 L85.4 451.0 L85.1 448.7 L83.1 447.4 L82.6 445.2 L80.5 444.8 L78.5 446.1 L76.3 445.5 L74.3 446.0 L74.6 443.6 L73.3 441.5 L71.3 440.9 L69.9 439.4 L69.0 437.3 L66.6 437.1 L65.0 435.9 L64.0 434.0 L62.9 432.5 L61.1 431.6 L61.1 429.3 L59.1 428.5 L58.5 426.7 L57.2 425.0 L55.9 423.4 L55.2 421.4 L54.8 419.3 L55.3 417.4 L53.6 415.7 L54.5 413.7 L54.1 411.9 L53.9 410.0 L55.8 408.6 L56.3 406.3 L57.6 404.4 L57.3 402.5 L57.6 400.6 L59.0 398.9 L58.5 397.0 L60.3 396.3 L62.5 396.8 L64.1 395.5 L66.0 395.0 L67.9 393.9 L70.1 393.3 L71.5 391.5 L71.8 389.6 L72.6 387.8 L72.9 386.0 L72.4 384.0 L74.0 382.2 L75.9 380.7 L77.0 378.5 L78.9 377.6 L80.5 376.2 L82.3 375.3 L84.4 374.8 L85.2 373.1 L85.1 371.1 Z" fill="#1e6fd2"/>
<path d="M134.6 522.6 L135.6 520.6 L137.7 519.3 L138.2 517.0 L139.3 515.0 L139.0 513.2 L138.3 511.5 L138.3 509.6 L137.6 507.8 L137.4 506.0 L136.9 504.1 L136.5 502.2 L135.6 500.4 L136.0 498.5 L136.7 496.6 L137.4 494.8 L139.2 493.7 L141.4 493.5 L142.7 491.4 L144.8 491.0 L146.4 492.4 L148.7 491.9 L150.4 493.0 L151.7 491.5 L153.7 490.8 L154.0 488.3 L155.9 487.4 L156.4 485.4 L158.1 484.0 L159.2 482.4 L159.7 480.4 L160.4 478.5 L161.9 477.2 L163.6 476.1 L165.3 475.1 L166.9 473.9 L167.7 471.8 L169.6 471.0 L171.2 469.5 L173.4 469.4 L175.4 468.7 L176.8 466.9 L179.1 467.0 L180.7 465.6 L182.7 464.3 L185.1 463.9 L187.4 463.3 L189.2 461.8 L191.7 461.8 L193.7 460.7 L195.0 458.3 L197.4 457.0 L199.9 457.5 L202.1 456.4 L204.5 456.0 L206.5 457.1 L208.5 458.3 L210.5 458.2 L212.2 457.0 L213.4 459.1 L215.0 460.9 L217.2 462.0 L219.1 461.2 L220.9 462.0 L221.3 463.8 L221.6 465.7 L221.5 467.5 L220.0 469.3 L220.8 471.2 L220.9 473.0 L222.1 474.9 L224.3 475.4 L225.8 476.8 L225.8 479.4 L227.0 481.7 L226.7 483.8 L226.6 485.9 L225.8 487.9 L227.7 489.2 L229.6 490.3 L232.0 490.4 L234.2 490.0 L236.3 491.2 L238.4 491.5 L240.6 491.6 L242.0 490.3 L243.8 489.7 L245.6 489.0 L247.6 488.4 L249.7 488.5 L251.7 489.0 L252.6 486.8 L254.3 485.1 L255.4 483.0 L256.5 481.0 L256.6 478.7 L257.9 476.8 L258.4 474.5 L260.1 472.9 L261.8 471.4 L262.8 469.4 L264.2 467.1 L266.5 465.7 L267.1 464.0 L267.9 462.3 L269.7 461.3 L270.2 459.5 L271.5 457.9 L272.1 455.8 L274.0 454.6 L276.6 454.5 L278.9 455.8 L281.0 456.5 L282.9 457.6 L285.0 458.3 L286.9 457.9 L288.4 456.3 L290.3 455.7 L292.3 455.6 L294.3 456.3 L296.5 456.2 L298.5 456.8 L299.8 455.5 L301.4 454.6 L303.6 454.6 L304.7 453.0 L305.2 450.9 L306.5 449.0 L307.2 447.0 L308.2 445.3 L309.5 443.8 L311.3 442.7 L312.0 440.7 L313.1 438.9 L312.1 437.0 L312.0 435.1 L312.7 433.3 L315.8 434.6 L316.3 436.4 L317.9 437.6 L318.3 439.5 L320.2 440.5 L320.2 443.0 L322.1 444.1 L323.2 445.7 L325.3 446.3 L327.3 445.5 L329.4 445.7 L330.4 447.6 L330.0 449.9 L330.6 451.9 L329.5 453.8 L328.1 455.6 L326.3 457.1 L325.7 459.3 L325.0 461.3 L323.6 462.9 L322.0 464.2 L322.0 466.1 L323.4 467.8 L323.8 469.6 L323.2 471.6 L324.7 473.1 L326.3 474.4 L327.0 476.5 L328.7 478.0 L330.4 479.4 L331.4 481.5 L333.0 483.0 L332.1 484.9 L332.0 487.2 L330.6 488.9 L330.1 491.0 L329.3 493.0 L328.6 495.2 L326.2 496.2 L325.6 498.5 L325.7 500.5 L325.5 502.3 L325.2 504.2 L323.8 505.9 L323.7 507.8 L324.2 509.8 L325.4 511.3 L327.0 512.5 L328.2 513.9 L329.6 515.2 L329.7 517.5 L331.0 518.9 L331.9 520.8 L333.1 522.5 L333.6 524.6 L334.8 526.3 L334.9 528.1 L334.0 530.0 L334.4 531.8 L335.3 533.6 L334.1 535.5 L335.6 537.3 L334.7 539.2 L334.8 541.0 L333.9 542.7 L333.1 544.5 L332.3 546.2 L330.2 547.1 L330.2 549.5 L328.4 550.5 L327.4 552.2 L325.8 554.2 L325.7 556.7 L324.5 558.4 L322.9 559.6 L321.0 560.4 L319.1 561.4 L317.4 562.6 L315.4 563.5 L313.4 564.4 L311.9 566.0 L309.7 565.2 L308.0 563.8 L306.3 562.2 L304.4 562.6 L302.6 563.0 L300.7 561.5 L298.9 561.7 L297.0 562.2 L295.0 562.6 L293.7 564.5 L291.2 563.9 L289.5 564.8 L287.8 566.0 L285.9 565.3 L284.2 564.1 L282.2 563.8 L280.2 563.4 L278.5 562.2 L276.9 563.3 L275.0 563.4 L273.3 564.1 L271.4 563.9 L269.6 564.0 L267.4 564.0 L266.1 565.3 L265.3 566.9 L264.1 568.3 L263.4 570.0 L263.2 572.0 L261.9 573.3 L261.5 575.1 L261.5 577.0 L260.6 578.8 L260.8 580.7 L261.0 582.6 L260.0 584.4 L260.0 586.3 L258.5 586.3 L256.4 587.2 L255.9 589.6 L253.5 590.3 L253.1 592.8 L251.0 593.7 L250.3 595.8 L249.3 597.7 L247.4 599.1 L246.0 600.7 L245.6 603.0 L243.7 603.9 L241.9 604.6 L240.0 604.2 L238.1 604.4 L236.2 603.7 L234.4 604.8 L233.0 606.7 L231.0 607.7 L228.9 608.5 L228.0 610.3 L227.3 612.0 L227.2 614.0 L227.9 616.1 L227.0 617.8 L224.7 618.8 L223.8 621.4 L221.5 622.4 L219.5 622.5 L217.8 623.6 L216.0 624.4 L214.0 624.4 L212.2 625.2 L211.3 627.0 L209.6 628.2 L208.4 629.7 L206.6 630.8 L206.2 633.0 L204.8 634.4 L203.3 635.9 L201.1 636.3 L199.3 637.2 L197.4 637.9 L195.6 636.6 L193.7 636.5 L191.7 637.0 L189.9 636.1 L188.0 636.3 L187.5 634.3 L186.3 632.6 L184.6 631.4 L182.6 631.7 L180.8 631.1 L179.0 630.6 L177.0 630.7 L175.0 630.7 L173.5 629.1 L171.6 628.7 L169.6 628.9 L167.6 629.5 L166.0 631.0 L164.3 632.2 L162.2 632.6 L160.9 631.3 L159.5 630.0 L158.4 628.5 L158.5 626.2 L156.7 625.2 L158.2 623.7 L159.0 621.7 L160.1 620.0 L160.4 617.8 L159.2 616.1 L158.7 614.3 L158.3 612.4 L158.5 610.4 L159.3 608.5 L157.8 606.6 L157.9 604.8 L157.9 602.9 L158.5 601.0 L157.5 599.1 L155.9 597.5 L154.8 595.6 L154.9 593.5 L153.1 592.0 L152.6 590.1 L152.0 588.2 L151.3 586.4 L151.0 584.4 L151.2 582.3 L150.6 580.4 L149.8 578.7 L148.9 576.9 L147.3 575.4 L147.4 573.3 L146.6 571.4 L145.3 569.9 L143.8 568.7 L141.5 568.3 L141.2 565.9 L139.3 565.0 L139.1 563.2 L139.8 561.3 L139.6 559.5 L139.2 557.7 L138.9 555.8 L139.3 554.0 L140.5 552.6 L141.0 550.7 L142.3 549.4 L143.2 547.8 L144.8 546.7 L144.3 544.8 L142.8 543.2 L143.0 541.0 L144.0 539.0 L145.2 537.2 L146.7 535.6 L145.3 533.9 L143.6 532.3 L143.0 530.0 L141.9 528.4 L140.4 527.3 L138.3 526.8 L137.6 524.8 L135.7 524.2 Z" fill="#1e6fd2"/>
<path d="M329.4 445.7 L331.5 446.4 L333.5 444.8 L335.6 445.7 L336.9 444.0 L338.3 442.2 L340.5 441.4 L341.7 439.5 L343.8 440.3 L346.2 440.3 L347.9 442.0 L349.7 441.2 L351.5 440.3 L353.0 438.9 L354.4 437.4 L356.5 437.0 L358.1 435.6 L359.1 433.7 L360.3 432.0 L361.0 430.0 L362.4 428.7 L362.5 426.7 L364.0 425.5 L364.7 423.8 L364.1 421.9 L364.1 419.8 L362.6 418.1 L363.4 415.8 L362.2 414.0 L362.4 411.9 L362.6 409.8 L363.3 407.9 L363.9 405.9 L364.7 404.0 L365.3 402.1 L366.5 400.4 L367.6 398.7 L368.1 396.7 L368.4 394.7 L369.6 393.0 L369.6 390.9 L370.3 388.9 L369.6 386.8 L371.6 387.5 L373.5 388.3 L375.0 390.0 L377.0 390.5 L379.1 391.4 L381.1 390.1 L383.2 390.5 L384.3 388.5 L384.5 386.2 L385.7 384.3 L387.8 384.0 L389.8 383.2 L391.9 383.0 L393.6 381.8 L395.4 381.2 L397.3 380.7 L399.3 380.6 L401.1 381.3 L403.0 380.6 L404.9 380.1 L406.7 380.6 L408.7 380.4 L410.4 379.7 L411.6 378.0 L413.7 377.9 L415.7 377.4 L417.8 378.0 L417.2 379.9 L415.8 381.5 L415.1 383.4 L415.3 385.6 L415.6 387.4 L416.0 389.2 L415.8 391.1 L415.9 393.0 L416.0 394.8 L417.4 396.4 L419.8 396.1 L421.0 398.0 L422.8 398.8 L424.8 399.3 L425.4 401.5 L426.6 403.3 L428.0 405.0 L429.3 406.7 L430.6 405.3 L432.1 404.2 L433.6 403.1 L435.2 402.2 L436.7 401.0 L436.8 398.8 L438.1 397.4 L439.6 396.3 L441.5 397.2 L443.7 396.9 L445.7 397.0 L447.7 397.5 L449.5 398.9 L451.5 399.3 L453.3 398.4 L455.5 399.0 L457.3 398.2 L458.9 397.0 L460.7 398.1 L462.6 397.0 L464.5 396.9 L466.3 397.8 L467.4 399.3 L469.0 400.4 L469.6 402.4 L471.3 403.4 L472.6 404.7 L473.6 406.3 L474.1 408.1 L475.2 409.7 L475.6 411.6 L476.9 413.4 L477.0 415.6 L477.2 417.8 L478.5 419.6 L479.5 421.5 L480.4 423.8 L481.6 425.8 L483.5 427.4 L484.7 429.3 L485.0 431.6 L486.3 433.4 L487.4 435.3 L485.6 436.0 L483.8 436.4 L482.0 437.0 L480.1 436.2 L478.1 436.0 L476.6 437.8 L474.6 437.3 L475.5 439.7 L477.5 441.2 L477.9 443.2 L478.4 445.1 L476.9 447.1 L477.5 449.1 L477.0 450.9 L476.6 452.7 L477.0 454.6 L476.5 456.3 L476.2 458.1 L476.5 460.0 L474.1 459.6 L471.8 459.8 L469.6 460.7 L468.5 462.3 L466.9 463.2 L465.0 463.8 L463.7 465.2 L464.2 467.4 L465.3 469.3 L466.7 471.1 L468.7 472.1 L469.6 474.1 L470.6 476.0 L472.6 477.0 L473.5 478.8 L474.6 480.5 L474.7 482.6 L475.6 484.4 L476.0 486.7 L477.9 488.2 L478.5 490.4 L479.3 492.3 L480.1 494.2 L480.0 496.3 L478.4 497.8 L477.5 499.8 L476.5 501.7 L475.6 503.7 L476.3 505.6 L477.0 507.5 L477.0 509.6 L476.7 511.6 L475.6 513.3 L474.7 515.1 L474.0 517.0 L472.0 516.5 L470.1 517.7 L468.1 517.0 L467.6 514.7 L466.7 512.6 L464.9 512.6 L463.0 513.3 L461.1 512.2 L459.3 512.6 L457.7 513.7 L456.2 515.0 L456.2 517.5 L453.9 518.1 L453.3 520.0 L453.0 522.1 L451.2 523.4 L450.3 525.1 L449.2 526.8 L448.5 528.7 L447.6 530.7 L446.3 532.4 L445.2 534.3 L443.3 535.4 L441.6 534.5 L440.4 533.1 L438.2 534.0 L435.9 533.9 L435.7 536.1 L437.1 537.8 L437.4 539.8 L436.2 541.6 L436.4 543.7 L435.9 545.7 L434.3 547.0 L432.2 547.3 L430.7 548.7 L428.8 548.5 L427.1 549.8 L425.1 548.8 L423.3 549.4 L421.1 548.4 L419.6 546.5 L419.1 544.2 L418.1 542.0 L417.4 539.8 L417.0 537.2 L415.5 535.0 L416.8 533.3 L416.9 531.3 L416.4 529.0 L417.8 527.4 L418.8 525.7 L417.9 523.8 L418.9 522.1 L418.7 520.2 L419.3 518.5 L421.4 518.5 L423.0 516.7 L425.2 517.0 L425.6 515.1 L425.7 513.1 L425.4 511.0 L426.0 509.1 L426.4 507.2 L426.7 505.2 L427.8 502.7 L429.6 500.7 L428.8 498.5 L428.1 496.3 L426.5 494.9 L425.6 492.8 L423.6 491.9 L421.6 490.9 L420.7 488.9 L418.9 488.1 L418.1 486.1 L416.2 485.4 L415.3 483.5 L413.3 483.0 L412.8 485.0 L410.9 485.9 L409.6 487.3 L409.0 489.2 L407.4 490.4 L405.5 490.9 L403.4 490.2 L401.5 491.0 L399.5 491.4 L397.7 490.6 L395.9 489.8 L394.0 489.9 L392.2 489.3 L390.4 488.7 L388.5 488.2 L386.8 487.4 L384.8 487.4 L383.4 486.0 L382.0 484.5 L380.7 483.0 L380.0 481.0 L379.2 479.1 L377.4 478.0 L375.5 477.6 L373.8 476.4 L371.9 476.0 L370.0 475.4 L368.2 475.6 L366.4 475.3 L364.6 476.5 L362.9 477.7 L360.7 478.0 L359.5 480.0 L357.8 481.5 L356.6 483.1 L355.1 484.5 L353.4 485.5 L351.6 486.4 L350.0 485.0 L348.0 484.4 L345.8 484.0 L344.2 482.7 L342.3 482.4 L340.4 481.9 L338.5 482.1 L336.8 483.2 L334.9 483.2 L333.0 483.0 L331.4 481.5 L330.4 479.4 L328.7 478.0 L327.0 476.5 L326.3 474.4 L324.7 473.1 L323.2 471.6 L323.8 469.6 L323.4 467.8 L322.0 466.1 L322.0 464.2 L323.6 462.9 L325.0 461.3 L325.7 459.3 L326.3 457.1 L328.1 455.6 L329.5 453.8 L330.6 451.9 L330.0 449.9 L330.4 447.6 Z" fill="#0552a6"/>
<path d="M245.6 603.0 L246.0 600.7 L247.4 599.1 L249.3 597.7 L250.3 595.8 L251.0 593.7 L253.1 592.8 L253.5 590.3 L255.9 589.6 L256.4 587.2 L258.5 586.3 L260.0 586.3 L260.0 584.4 L261.0 582.6 L260.8 580.7 L260.6 578.8 L261.5 577.0 L261.5 575.1 L261.9 573.3 L263.2 572.0 L263.4 570.0 L264.1 568.3 L265.3 566.9 L266.1 565.3 L267.4 564.0 L269.6 564.0 L271.4 563.9 L273.3 564.1 L275.0 563.4 L276.9 563.3 L278.5 562.2 L280.2 563.4 L282.2 563.8 L284.2 564.1 L285.9 565.3 L287.8 566.0 L289.5 564.8 L291.2 563.9 L293.7 564.5 L295.0 562.6 L297.0 562.2 L298.9 561.7 L300.7 561.5 L302.6 563.0 L304.4 562.6 L306.3 562.2 L308.0 563.8 L309.7 565.2 L311.9 566.0 L313.4 564.4 L315.4 563.5 L317.4 562.6 L319.1 561.4 L321.0 560.4 L322.9 559.6 L324.5 558.4 L325.7 556.7 L325.8 554.2 L327.4 552.2 L328.4 550.5 L330.2 549.5 L330.2 547.1 L332.3 546.2 L333.1 544.5 L333.9 542.7 L334.8 541.0 L334.7 539.2 L335.6 537.3 L334.1 535.5 L335.3 533.6 L334.4 531.8 L334.0 530.0 L334.9 528.1 L334.8 526.3 L333.6 524.6 L333.1 522.5 L331.9 520.8 L331.0 518.9 L329.7 517.5 L329.6 515.2 L328.2 513.9 L327.0 512.5 L325.4 511.3 L324.2 509.8 L323.7 507.8 L323.8 505.9 L325.2 504.2 L325.5 502.3 L325.7 500.5 L325.6 498.5 L326.2 496.2 L328.6 495.2 L329.3 493.0 L330.1 491.0 L330.6 488.9 L332.0 487.2 L332.1 484.9 L333.0 483.0 L334.9 483.2 L336.8 483.2 L338.5 482.1 L340.4 481.9 L342.3 482.4 L344.2 482.7 L345.8 484.0 L348.0 484.4 L350.0 485.0 L351.6 486.4 L353.4 485.5 L355.1 484.5 L356.6 483.1 L357.8 481.5 L359.5 480.0 L360.7 478.0 L362.9 477.7 L364.6 476.5 L366.4 475.3 L368.2 475.6 L370.0 475.4 L371.9 476.0 L373.8 476.4 L375.5 477.6 L377.4 478.0 L379.2 479.1 L380.0 481.0 L380.7 483.0 L382.0 484.5 L383.4 486.0 L384.8 487.4 L386.8 487.4 L388.5 488.2 L390.4 488.7 L392.2 489.3 L394.0 489.9 L395.9 489.8 L397.7 490.6 L399.5 491.4 L401.5 491.0 L403.4 490.2 L405.5 490.9 L407.4 490.4 L409.0 489.2 L409.6 487.3 L410.9 485.9 L412.8 485.0 L413.3 483.0 L415.3 483.5 L416.2 485.4 L418.1 486.1 L418.9 488.1 L420.7 488.9 L421.6 490.9 L423.6 491.9 L425.6 492.8 L426.5 494.9 L428.1 496.3 L428.8 498.5 L429.6 500.7 L427.8 502.7 L426.7 505.2 L426.4 507.2 L426.0 509.1 L425.4 511.0 L425.7 513.1 L425.6 515.1 L425.2 517.0 L423.0 516.7 L421.4 518.5 L419.3 518.5 L418.7 520.2 L418.9 522.1 L417.9 523.8 L418.8 525.7 L417.8 527.4 L416.4 529.0 L416.9 531.3 L416.8 533.3 L415.5 535.0 L414.2 536.8 L412.2 537.6 L410.1 538.8 L408.5 540.6 L408.6 542.9 L407.6 545.0 L407.0 547.2 L406.3 549.0 L405.8 550.9 L404.9 552.6 L404.8 554.6 L404.5 556.8 L403.4 558.6 L402.6 560.6 L403.7 562.1 L404.8 563.5 L406.2 564.7 L408.2 565.0 L409.3 566.5 L411.4 567.5 L413.7 568.0 L415.6 567.3 L417.5 566.6 L419.6 566.5 L420.9 568.6 L423.3 569.4 L425.2 570.0 L426.3 571.7 L426.3 574.3 L426.3 576.9 L423.7 577.3 L421.1 577.6 L418.3 577.7 L416.0 576.1 L414.3 574.9 L411.9 574.9 L410.2 573.6 L408.5 572.4 L406.7 571.6 L405.5 569.7 L403.3 569.4 L401.0 568.9 L398.9 568.0 L396.8 569.7 L394.4 570.9 L392.4 571.9 L392.1 574.5 L390.0 575.4 L388.6 576.6 L387.2 577.9 L386.0 579.4 L385.2 581.3 L383.7 582.6 L382.4 583.9 L381.0 585.3 L379.8 586.8 L379.1 588.9 L376.6 589.7 L376.6 592.3 L374.9 593.7 L373.6 595.4 L372.4 597.1 L371.1 598.8 L369.4 600.2 L368.6 602.2 L367.4 604.0 L365.5 605.4 L364.9 607.7 L363.2 609.3 L362.5 611.5 L362.8 613.4 L363.6 615.1 L364.8 616.6 L366.1 618.0 L366.2 620.0 L367.0 621.9 L368.4 623.6 L369.0 625.6 L369.9 627.5 L369.7 629.7 L368.4 631.6 L369.0 633.9 L368.4 636.0 L367.4 638.0 L366.7 640.0 L365.2 641.3 L364.1 643.0 L362.6 644.4 L361.8 646.3 L360.0 647.4 L358.5 649.0 L358.6 651.3 L357.9 653.3 L356.3 654.8 L355.1 656.5 L354.8 658.4 L354.9 660.6 L353.4 662.1 L352.6 663.9 L352.6 666.0 L350.5 665.9 L348.7 666.8 L347.0 667.8 L345.4 666.9 L343.5 666.2 L343.1 663.7 L341.6 662.6 L339.6 662.2 L338.9 660.4 L338.1 658.6 L338.9 656.5 L337.8 654.8 L336.7 653.1 L335.8 651.3 L335.3 649.4 L336.0 647.1 L334.0 645.8 L334.0 643.7 L332.4 642.2 L332.4 639.9 L331.0 638.3 L330.4 636.3 L328.5 636.5 L326.7 636.2 L324.9 636.3 L323.0 636.3 L321.4 634.2 L319.3 632.6 L317.4 632.1 L315.6 632.2 L313.7 633.0 L311.9 631.7 L310.0 632.6 L307.8 633.4 L306.2 635.0 L304.4 636.3 L302.6 637.5 L301.3 639.1 L299.7 640.4 L298.9 642.7 L297.0 643.7 L295.2 643.0 L293.2 643.4 L291.6 641.7 L289.6 641.9 L287.8 642.9 L285.7 643.4 L284.0 644.6 L282.5 646.1 L280.6 647.0 L278.5 647.4 L276.7 648.2 L274.7 648.3 L273.2 650.0 L270.9 649.3 L269.3 650.5 L267.4 651.0 L266.0 649.5 L264.4 648.2 L262.8 647.0 L261.4 645.5 L260.4 643.7 L260.1 641.6 L259.0 639.8 L257.8 638.1 L256.7 636.3 L255.5 634.6 L255.7 632.4 L254.4 630.7 L253.0 629.2 L253.0 627.0 L252.1 625.3 L252.5 623.2 L251.9 621.3 L251.0 619.6 L249.7 617.6 L247.7 616.1 L246.5 614.0 L246.5 612.2 L246.3 610.3 L246.9 608.4 L246.1 606.7 L246.2 604.8 Z" fill="#0a4a92"/>
<path d="M329.0 194.0 L328.9 196.1 L328.0 198.0 L327.4 200.0 L324.4 201.5 L322.4 202.3 L320.7 203.8 L318.5 204.4 L316.9 206.2 L314.6 206.5 L312.6 207.4 L312.1 209.3 L311.0 211.1 L309.6 212.6 L309.6 214.8 L308.9 216.5 L308.8 218.4 L308.3 220.2 L308.1 222.0 L308.2 224.4 L308.9 226.7 M308.9 226.7 L307.0 227.8 L305.2 228.6 L303.3 227.1 L301.5 227.3 L299.7 227.1 L297.8 227.3 L296.0 227.8 L295.2 229.6 L294.2 231.4 L293.0 233.0 L291.5 231.5 L289.4 232.6 L287.0 232.2 L286.1 230.6 L284.8 229.3 L281.9 230.0 L282.7 232.2 L282.7 234.4 L282.4 236.7 L281.9 238.9 L279.8 238.7 L278.1 237.4 L276.1 237.7 L274.2 238.2 L272.2 237.4 L270.0 238.9 L267.3 238.2 L265.6 236.0 L262.9 236.2 L260.4 235.2 L258.8 234.1 L258.2 232.3 L257.4 230.7 L255.2 230.8 L253.7 229.3 L251.6 228.1 L249.3 228.1 L247.0 227.8 L246.0 225.6 L246.3 223.3 L244.1 223.7 L241.8 223.6 L239.6 223.3 L240.0 225.1 L240.5 227.0 L239.4 228.9 L239.2 230.8 L240.3 232.5 L240.4 234.4 L240.2 236.5 L240.7 238.6 L240.5 240.6 L239.6 242.6 L237.8 243.9 L235.9 245.0 L233.7 245.6 L234.1 243.5 L232.6 241.7 L233.0 239.6 L230.0 240.4 L228.2 241.5 L226.2 240.0 L224.4 241.0 L222.5 241.9 L221.0 243.5 L218.8 243.8 L217.0 244.8 L215.5 246.3 L213.3 246.2 L211.2 246.2 L209.4 247.2 L207.8 248.5 L205.8 248.8 L204.2 250.2 L202.2 250.4 M403.0 225.0 L402.2 226.8 L400.8 228.4 L400.9 230.6 L399.4 232.2 L398.7 234.1 L399.0 236.3 L397.8 238.0 L396.8 239.7 L395.5 241.1 L394.2 242.6 L392.5 243.6 L391.6 245.4 L390.0 246.5 L388.3 247.8 L386.9 249.4 L384.8 250.0 L382.7 250.7 L381.6 252.8 L379.7 254.0 L378.0 255.2 M378.0 255.2 L376.1 255.4 L374.1 255.1 L372.4 256.2 L370.3 255.7 L368.6 256.7 L366.7 257.0 L364.8 256.4 L362.8 256.0 L360.7 256.3 L358.9 255.1 L357.0 254.5 M357.0 254.5 L356.0 252.8 L355.2 251.0 L355.6 248.9 L355.3 247.0 L353.6 245.8 L353.3 243.9 L352.6 242.2 L350.8 241.8 L349.0 242.1 L347.1 242.5 L345.3 242.2 L343.5 242.1 L341.7 241.7 L339.8 242.9 L338.0 242.1 L336.2 242.7 L334.4 242.6 L332.5 241.7 L330.7 242.2 L328.9 242.2 L326.6 243.2 L324.4 244.4 L323.0 246.2 L321.8 248.1 L321.5 250.4 L321.0 248.6 L320.9 246.7 L320.4 244.8 L320.0 243.0 L317.7 243.7 L315.5 244.4 L314.3 242.7 L312.5 241.5 L311.1 240.0 L311.5 238.2 L311.8 236.3 L313.0 234.6 L312.6 232.6 L311.4 230.8 L309.6 229.6 L308.9 226.7 M357.0 254.5 L355.1 255.6 L353.7 257.2 L353.3 259.5 L351.5 260.8 L349.6 261.9 L348.9 264.0 L347.6 265.4 L348.0 267.6 L347.3 269.3 L346.0 270.8 L345.2 272.4 L343.3 273.0 L341.4 272.6 L339.5 272.7 L337.8 271.5 L335.9 271.1 L334.0 271.5 L331.9 271.5 L330.6 273.5 L328.4 273.2 L326.7 274.3 L324.8 273.7 L322.8 274.3 L321.0 273.3 L319.0 273.2 L317.1 273.6 L315.7 275.5 L313.5 274.8 L311.9 276.1 L311.1 278.5 L310.0 280.7 L311.9 282.5 L313.7 284.4 L313.2 286.4 L313.9 288.2 L315.4 289.9 L315.3 291.8 L315.6 293.7 L314.6 295.5 L314.0 297.5 L313.3 299.4 L311.9 301.0 L310.1 301.7 L308.1 301.4 L306.5 303.0 L304.4 302.5 L302.6 303.0 L300.8 304.3 L299.3 306.2 L297.0 306.7 L296.3 308.7 L295.0 310.2 L294.2 312.2 L293.3 314.0 L291.9 315.9 L289.1 315.8 L287.8 317.8 L286.0 318.8 L284.4 319.9 L284.1 322.4 L282.2 323.3 L280.5 324.4 L278.8 325.5 L276.5 325.1 L275.0 326.6 L273.0 327.0 L271.3 328.1 L269.3 328.1 L267.3 327.7 L265.6 328.9 L266.6 331.0 L268.9 332.0 L270.0 334.0 M270.0 334.0 L272.2 334.5 L274.3 335.3 L276.0 337.0 L277.1 338.5 L278.3 340.0 L278.9 341.8 L279.7 343.5 L280.1 345.4 L281.0 347.0 L281.4 349.1 L282.6 350.8 L284.1 352.3 L285.1 354.1 L286.0 356.0 L287.7 357.2 L289.6 358.1 L291.4 359.1 L293.0 360.5 L294.1 358.8 L295.8 358.2 L298.0 358.2 L298.6 355.9 L300.5 355.5 L302.2 356.6 L303.8 357.9 L305.2 359.3 L307.6 359.5 L309.0 361.0 L309.8 362.9 L310.2 364.9 L310.4 367.0 L310.7 369.0 L311.0 371.0 L311.1 373.5 L312.1 375.6 L313.5 377.5 L315.4 376.8 L315.8 374.4 L317.2 373.1 L319.4 372.8 L321.1 371.8 L322.0 370.0 L323.4 368.8 L325.0 367.8 L325.7 365.9 L327.6 365.3 L329.6 364.9 L330.9 363.6 L332.0 362.0 L332.8 363.9 L334.0 365.6 L336.2 366.2 L337.7 367.5 L339.0 369.1 L339.8 371.0 L341.2 372.2 L342.5 373.7 L343.6 375.2 L345.3 376.1 L347.0 377.0 L348.6 378.4 L350.3 379.8 L352.3 380.6 L354.2 380.8 L356.1 381.3 L358.0 381.5 L360.4 381.2 L362.4 383.0 L364.7 383.0 L366.6 383.9 L367.5 386.1 L369.6 386.8 M270.0 334.0 L269.8 336.0 L267.8 337.2 L267.6 339.2 L267.0 341.0 L265.2 340.2 L263.1 340.9 L261.3 340.5 L259.6 339.3 L257.9 340.5 L256.7 342.4 L255.7 344.3 L253.1 344.7 L252.2 346.7 L251.4 348.5 L250.5 350.2 L251.1 352.5 L249.1 353.9 L249.9 356.2 L248.5 357.8 L247.5 359.5 L247.9 361.5 L247.7 363.4 L247.0 365.1 L246.7 367.0 L244.7 367.9 L244.1 370.1 L242.9 371.7 L241.0 372.6 L239.6 373.9 L238.6 375.6 L237.4 377.1 L235.6 378.0 L233.9 379.2 L232.1 380.1 L230.0 380.0 L228.8 381.5 L227.2 382.5 L225.8 383.6 L223.8 384.1 L222.6 385.6 L221.3 384.2 L220.7 382.5 L219.3 381.2 L218.6 379.5 L217.2 378.3 L217.0 376.3 L215.0 376.0 L213.0 375.7 L211.6 373.8 L209.6 373.5 L207.7 374.4 L206.1 375.9 L204.0 376.3 L203.4 378.2 L202.1 379.8 L202.9 382.1 L201.1 383.5 L201.1 385.6 L200.4 387.4 L199.3 388.9 L197.7 390.0 L197.2 392.0 L195.9 393.3 L194.8 394.8 L193.1 393.9 L191.4 392.8 L189.3 393.0 L189.2 394.9 L188.0 396.6 L187.8 398.4 L187.5 400.3 L187.4 402.2 M187.4 402.2 L184.4 402.6 L182.5 402.4 L180.6 402.1 L178.6 402.2 L176.7 401.7 L175.0 400.7 L173.4 401.8 L171.3 401.0 L169.7 402.3 L167.9 402.8 L166.0 402.6 L164.2 401.5 L164.0 399.1 L162.8 397.5 L161.2 396.2 L159.4 395.1 L158.5 393.3 L156.4 392.8 L154.6 391.8 L152.8 390.6 L151.0 389.6 L149.9 391.3 L148.0 392.1 L146.7 393.6 L144.4 393.9 L142.9 395.1 L141.9 397.0 L140.5 398.3 L139.6 400.0 L137.3 400.4 L136.8 402.6 L135.4 403.8 L134.6 405.6 L132.6 406.3 L130.7 406.5 L128.9 406.3 L127.0 406.3 L125.2 406.8 L123.3 406.3 L122.9 404.5 L121.5 402.9 L121.5 400.9 L121.5 399.0 L119.9 397.5 L119.5 395.3 L118.0 393.7 L117.8 391.5 L115.8 391.3 L114.5 390.0 L112.9 389.2 L111.7 387.7 L110.1 386.9 L108.5 386.0 L106.9 384.7 L104.9 383.9 L103.1 382.9 L101.4 381.7 L99.2 381.5 L97.4 380.4 L95.9 379.0 L95.6 376.7 L93.2 376.1 L92.8 373.9 L91.4 372.4 L90.0 371.0 L87.4 370.9 L85.4 369.3 M187.4 402.2 L188.3 404.1 L190.2 405.0 L192.0 406.0 L193.0 407.8 L194.8 408.8 L195.1 410.8 L196.1 412.4 L196.8 414.2 L198.5 415.2 L200.3 416.3 L200.9 418.5 L202.3 420.0 L202.7 421.8 L202.6 423.7 L203.4 425.5 L203.3 427.4 L203.1 429.3 L202.5 431.2 L204.1 432.9 L203.6 434.8 L203.9 436.8 L203.5 438.8 L203.5 440.8 L205.1 442.7 L204.8 444.7 L204.9 447.3 L203.6 449.6 L203.1 451.8 L203.4 454.0 L204.5 456.0 M204.5 456.0 L202.1 456.4 L199.9 457.5 L197.4 457.0 L195.0 458.3 L193.7 460.7 L191.7 461.8 L189.2 461.8 L187.4 463.3 L185.1 463.9 L182.7 464.3 L180.7 465.6 L179.1 467.0 L176.8 466.9 L175.4 468.7 L173.4 469.4 L171.2 469.5 L169.6 471.0 L167.7 471.8 L166.9 473.9 L165.3 475.1 L163.6 476.1 L161.9 477.2 L160.4 478.5 L159.7 480.4 L159.2 482.4 L158.1 484.0 L156.4 485.4 L155.9 487.4 L154.0 488.3 L153.7 490.8 L151.7 491.5 L150.4 493.0 L148.7 491.9 L146.4 492.4 L144.8 491.0 L142.7 491.4 L141.4 493.5 L139.2 493.7 L137.4 494.8 L136.7 496.6 L136.0 498.5 L135.6 500.4 L136.5 502.2 L136.9 504.1 L137.4 506.0 L137.6 507.8 L138.3 509.6 L138.3 511.5 L139.0 513.2 L139.3 515.0 L138.2 517.0 L137.7 519.3 L135.6 520.6 L134.6 522.6 M204.5 456.0 L206.5 457.1 L208.5 458.3 L210.5 458.2 L212.2 457.0 L213.4 459.1 L215.0 460.9 L217.2 462.0 L219.1 461.2 L220.9 462.0 L221.3 463.8 L221.6 465.7 L221.5 467.5 L220.0 469.3 L220.8 471.2 L220.9 473.0 L222.1 474.9 L224.3 475.4 L225.8 476.8 L225.8 479.4 L227.0 481.7 L226.7 483.8 L226.6 485.9 L225.8 487.9 L227.7 489.2 L229.6 490.3 L232.0 490.4 L234.2 490.0 L236.3 491.2 L238.4 491.5 L240.6 491.6 L242.0 490.3 L243.8 489.7 L245.6 489.0 L247.6 488.4 L249.7 488.5 L251.7 489.0 L252.6 486.8 L254.3 485.1 L255.4 483.0 L256.5 481.0 L256.6 478.7 L257.9 476.8 L258.4 474.5 L260.1 472.9 L261.8 471.4 L262.8 469.4 L264.2 467.1 L266.5 465.7 L267.1 464.0 L267.9 462.3 L269.7 461.3 L270.2 459.5 L271.5 457.9 L272.1 455.8 L274.0 454.6 L276.6 454.5 L278.9 455.8 L281.0 456.5 L282.9 457.6 L285.0 458.3 L286.9 457.9 L288.4 456.3 L290.3 455.7 L292.3 455.6 L294.3 456.3 L296.5 456.2 L298.5 456.8 L299.8 455.5 L301.4 454.6 L303.6 454.6 L304.7 453.0 L305.2 450.9 L306.5 449.0 L307.2 447.0 L308.2 445.3 L309.5 443.8 L311.3 442.7 L312.0 440.7 L313.1 438.9 L312.1 437.0 L312.0 435.1 L312.7 433.3 L315.8 434.6 L316.3 436.4 L317.9 437.6 L318.3 439.5 L320.2 440.5 L320.2 443.0 L322.1 444.1 L323.2 445.7 L325.3 446.3 L327.3 445.5 L329.4 445.7 M369.6 386.8 L370.3 388.9 L369.6 390.9 L369.6 393.0 L368.4 394.7 L368.1 396.7 L367.6 398.7 L366.5 400.4 L365.3 402.1 L364.7 404.0 L363.9 405.9 L363.3 407.9 L362.6 409.8 L362.4 411.9 L362.2 414.0 L363.4 415.8 L362.6 418.1 L364.1 419.8 L364.1 421.9 L364.7 423.8 L364.0 425.5 L362.5 426.7 L362.4 428.7 L361.0 430.0 L360.3 432.0 L359.1 433.7 L358.1 435.6 L356.5 437.0 L354.4 437.4 L353.0 438.9 L351.5 440.3 L349.7 441.2 L347.9 442.0 L346.2 440.3 L343.8 440.3 L341.7 439.5 L340.5 441.4 L338.3 442.2 L336.9 444.0 L335.6 445.7 L333.5 444.8 L331.5 446.4 L329.4 445.7 M329.4 445.7 L330.4 447.6 L330.0 449.9 L330.6 451.9 L329.5 453.8 L328.1 455.6 L326.3 457.1 L325.7 459.3 L325.0 461.3 L323.6 462.9 L322.0 464.2 L322.0 466.1 L323.4 467.8 L323.8 469.6 L323.2 471.6 L324.7 473.1 L326.3 474.4 L327.0 476.5 L328.7 478.0 L330.4 479.4 L331.4 481.5 L333.0 483.0 M333.0 483.0 L332.1 484.9 L332.0 487.2 L330.6 488.9 L330.1 491.0 L329.3 493.0 L328.6 495.2 L326.2 496.2 L325.6 498.5 L325.7 500.5 L325.5 502.3 L325.2 504.2 L323.8 505.9 L323.7 507.8 L324.2 509.8 L325.4 511.3 L327.0 512.5 L328.2 513.9 L329.6 515.2 L329.7 517.5 L331.0 518.9 L331.9 520.8 L333.1 522.5 L333.6 524.6 L334.8 526.3 L334.9 528.1 L334.0 530.0 L334.4 531.8 L335.3 533.6 L334.1 535.5 L335.6 537.3 L334.7 539.2 L334.8 541.0 L333.9 542.7 L333.1 544.5 L332.3 546.2 L330.2 547.1 L330.2 549.5 L328.4 550.5 L327.4 552.2 L325.8 554.2 L325.7 556.7 L324.5 558.4 L322.9 559.6 L321.0 560.4 L319.1 561.4 L317.4 562.6 L315.4 563.5 L313.4 564.4 L311.9 566.0 L309.7 565.2 L308.0 563.8 L306.3 562.2 L304.4 562.6 L302.6 563.0 L300.7 561.5 L298.9 561.7 L297.0 562.2 L295.0 562.6 L293.7 564.5 L291.2 563.9 L289.5 564.8 L287.8 566.0 L285.9 565.3 L284.2 564.1 L282.2 563.8 L280.2 563.4 L278.5 562.2 L276.9 563.3 L275.0 563.4 L273.3 564.1 L271.4 563.9 L269.6 564.0 L267.4 564.0 L266.1 565.3 L265.3 566.9 L264.1 568.3 L263.4 570.0 L263.2 572.0 L261.9 573.3 L261.5 575.1 L261.5 577.0 L260.6 578.8 L260.8 580.7 L261.0 582.6 L260.0 584.4 L260.0 586.3 L258.5 586.3 L256.4 587.2 L255.9 589.6 L253.5 590.3 L253.1 592.8 L251.0 593.7 L250.3 595.8 L249.3 597.7 L247.4 599.1 L246.0 600.7 L245.6 603.0 M333.0 483.0 L334.9 483.2 L336.8 483.2 L338.5 482.1 L340.4 481.9 L342.3 482.4 L344.2 482.7 L345.8 484.0 L348.0 484.4 L350.0 485.0 L351.6 486.4 L353.4 485.5 L355.1 484.5 L356.6 483.1 L357.8 481.5 L359.5 480.0 L360.7 478.0 L362.9 477.7 L364.6 476.5 L366.4 475.3 L368.2 475.6 L370.0 475.4 L371.9 476.0 L373.8 476.4 L375.5 477.6 L377.4 478.0 L379.2 479.1 L380.0 481.0 L380.7 483.0 L382.0 484.5 L383.4 486.0 L384.8 487.4 L386.8 487.4 L388.5 488.2 L390.4 488.7 L392.2 489.3 L394.0 489.9 L395.9 489.8 L397.7 490.6 L399.5 491.4 L401.5 491.0 L403.4 490.2 L405.5 490.9 L407.4 490.4 L409.0 489.2 L409.6 487.3 L410.9 485.9 L412.8 485.0 L413.3 483.0 L415.3 483.5 L416.2 485.4 L418.1 486.1 L418.9 488.1 L420.7 488.9 L421.6 490.9 L423.6 491.9 L425.6 492.8 L426.5 494.9 L428.1 496.3 L428.8 498.5 L429.6 500.7 L427.8 502.7 L426.7 505.2 L426.4 507.2 L426.0 509.1 L425.4 511.0 L425.7 513.1 L425.6 515.1 L425.2 517.0 L423.0 516.7 L421.4 518.5 L419.3 518.5 L418.7 520.2 L418.9 522.1 L417.9 523.8 L418.8 525.7 L417.8 527.4 L416.4 529.0 L416.9 531.3 L416.8 533.3 L415.5 535.0 M417.8 378.0 L417.2 379.9 L415.8 381.5 L415.1 383.4 L415.3 385.6 L415.6 387.4 L416.0 389.2 L415.8 391.1 L415.9 393.0 L416.0 394.8 L417.4 396.4 L419.8 396.1 L421.0 398.0 L422.8 398.8 L424.8 399.3 L425.4 401.5 L426.6 403.3 L428.0 405.0 L429.3 406.7 L430.6 405.3 L432.1 404.2 L433.6 403.1 L435.2 402.2 L436.7 401.0 L436.8 398.8 L438.1 397.4 L439.6 396.3 L441.5 397.2 L443.7 396.9 L445.7 397.0 L447.7 397.5 L449.5 398.9 L451.5 399.3 L453.3 398.4 L455.5 399.0 L457.3 398.2 L458.9 397.0 L460.7 398.1 L462.6 397.0 L464.5 396.9 L466.3 397.8 M369.6 386.8 L371.6 387.5 L373.5 388.3 L375.0 390.0 L377.0 390.5 L379.1 391.4 L381.1 390.1 L383.2 390.5 L384.3 388.5 L384.5 386.2 L385.7 384.3 L387.8 384.0 L389.8 383.2 L391.9 383.0 L393.6 381.8 L395.4 381.2 L397.3 380.7 L399.3 380.6 L401.1 381.3 L403.0 380.6 L404.9 380.1 L406.7 380.6 L408.7 380.4 L410.4 379.7 L411.6 378.0 L413.7 377.9 L415.7 377.4 L417.8 378.0 M378.0 255.2 L379.1 256.9 L378.4 259.2 L379.5 261.0 L379.3 263.0 L380.1 264.9 L381.0 266.7 L382.2 268.4 L381.9 270.7 L383.3 272.3 L384.8 273.8 L384.8 276.0 L386.4 277.5 L386.3 279.7 L387.1 281.5 L388.1 283.2 L388.5 285.2 L390.4 285.6 L391.7 286.8 L393.3 287.7 L394.4 289.4 L396.7 289.0 L397.8 290.7 L398.3 292.7 L399.6 294.4 L398.1 295.6 L398.3 297.9 L396.1 298.7 L395.5 300.4 L394.3 301.8 L394.0 303.7 L395.4 304.9 L396.4 306.5 L397.5 308.0 L397.8 310.1 L399.6 311.0 L401.3 313.0 L403.3 314.8 L402.3 316.5 L401.0 317.9 L400.0 319.7 L399.1 321.4 L397.8 322.9 L396.0 324.0 L394.9 325.7 L395.4 327.8 L393.7 329.4 L394.0 331.5 L396.2 331.4 L398.4 331.7 L400.5 332.5 L401.4 334.4 L402.9 336.0 L403.5 338.0 L404.2 340.0 L404.4 342.2 L405.5 344.0 L406.6 345.7 L408.0 347.3 L409.9 348.7 L411.6 350.4 L414.0 351.0 L415.9 352.2 L418.1 351.9 L420.2 352.2 L419.6 354.1 L420.5 356.2 L419.1 358.0 L419.3 360.1 L419.0 362.0 L419.1 363.9 L419.8 365.6 L420.9 367.1 L421.8 368.7 L421.5 370.7 L419.9 372.2 L420.2 374.7 L418.8 376.2 L417.8 378.0" fill="none" stroke="#b8d3f2" stroke-width="1.2" stroke-linejoin="round"/>
<path d="M495.4 182.9 L497.9 182.4 L499.4 185.9 L499.9 191.3 L501.9 195.2 L504.3 198.2 L508.8 199.7 L512.2 202.2 L517.2 204.6 L516.7 205.9 L512.2 205.1 L508.8 203.1 L503.8 200.7 L500.4 197.2 L497.9 193.3 L496.4 188.8 L495.2 184.9 Z" fill="#5b9bd5"/>
<path d="M512.5 246.9 L518.6 243.5 L524.7 240.1 L528.8 242.2 L531.5 244.9 L530.8 252.3 L528.1 253.0 L522.7 251.0 L517.2 248.3 Z" fill="#5b9bd5"/>
<path d="M534.2 250.0 L540.0 249.2 L546.0 250.0 L552.5 249.2 L552.0 253.0 L545.0 253.5 L538.0 253.3 L534.5 253.0 Z" fill="#5b9bd5"/>
<path d="M522.5 260.0 L526.0 259.2 L528.3 261.0 L525.0 265.0 L523.0 264.0 Z" fill="#5b9bd5"/>
<path d="M534.9 221.8 L540.3 223.8 L545.7 221.8 L551.8 225.2 L552.5 228.6 L545.7 229.3 L537.6 229.3 L535.5 226.5 Z" fill="#5b9bd5"/>
<path d="M551.7 188.0 L556.0 186.0 L558.0 189.0 L562.8 187.5 L562.0 191.7 L553.0 191.7 Z" fill="#5b9bd5"/>
<path d="M565.0 194.5 L569.4 193.9 L568.0 197.2 L565.5 197.0 Z" fill="#5b9bd5"/>
<path d="M498.3 264.2 L503.3 262.9 L515.0 265.0 L523.3 268.3 L530.0 270.8 L538.3 271.7 L540.5 278.6 L544.8 282.1 L545.7 287.3 L540.5 290.7 L533.6 289.0 L525.8 287.3 L518.9 285.6 L512.0 284.7 L508.5 281.2 L506.0 275.2 L501.7 270.0 Z" fill="#5b9bd5"/>
<path d="M487.8 276.9 L493.0 276.0 L497.3 280.4 L498.2 285.6 L494.7 289.9 L489.5 289.0 L487.8 283.0 Z" fill="#5b9bd5"/>
<path d="M496.7 273.5 L500.0 273.3 L500.0 276.7 L497.0 276.7 Z" fill="#5b9bd5"/>
<path d="M545.7 291.6 L551.7 290.7 L556.0 295.0 L555.2 298.5 L552.6 301.1 L553.5 304.6 L550.9 303.7 L549.1 297.7 L546.6 295.0 Z" fill="#5b9bd5"/>
<path d="M533.6 305.4 L538.8 304.6 L542.2 308.0 L544.8 312.4 L540.5 313.2 L537.0 310.6 L534.4 308.0 Z" fill="#5b9bd5"/>
<path d="M533.6 314.0 L535.0 314.5 L537.5 317.0 L542.2 317.5 L544.0 318.4 L542.2 319.8 L536.2 319.4 L533.0 316.5 Z" fill="#5b9bd5"/>
<path d="M536.0 300.8 L545.7 300.3 L545.0 302.8 L537.0 302.8 Z" fill="#5b9bd5"/>
<path d="M514.6 321.9 L519.8 314.0 L523.2 315.0 L525.0 320.1 L531.0 323.6 L532.7 327.0 L529.3 330.5 L525.0 328.8 L521.5 323.6 L516.3 323.6 Z" fill="#5b9bd5"/>
<path d="M550.3 281.0 L551.8 280.8 L551.5 286.7 L550.0 286.0 Z" fill="#5b9bd5"/>
<path d="M589.4 185.8 L592.0 185.6 L591.5 187.8 L589.5 187.5 Z" fill="#5b9bd5"/>
<path d="M594.5 185.8 L597.2 186.0 L596.5 188.0 L594.8 187.5 Z" fill="#5b9bd5"/>
<circle cx="510.6" cy="208.3" r="1.1" fill="#5b9bd5"/>
<circle cx="508.3" cy="260.8" r="1.1" fill="#5b9bd5"/>
<circle cx="499.2" cy="245" r="1.1" fill="#5b9bd5"/>
<circle cx="510.2" cy="320.5" r="1.2" fill="#5b9bd5"/>
<circle cx="503" cy="254" r="0.7" fill="#5b9bd5"/>
<circle cx="547" cy="289" r="0.8" fill="#5b9bd5"/>
<path d="M408.5 558.5 L412.0 556.3 L417.0 556.1 L420.4 558.0 L419.0 561.0 L413.0 561.3 L409.0 560.5 Z" fill="#0a4a92"/>
<path d="M409.3 555.0 L411.0 553.2 L413.0 553.5 L410.5 555.4 Z" fill="#0a4a92"/>
<path d="M423.3 556.0 L427.0 554.0 L430.0 553.9 L428.0 556.9 L424.5 556.9 Z" fill="#0a4a92"/>
<circle cx="490" cy="408" r="1.8" fill="#03356a"/>
<circle cx="504" cy="487" r="1.6" fill="#0552a6"/>
<circle cx="497.8" cy="451" r="0.9" fill="#0552a6"/>
<circle cx="462" cy="539" r="1" fill="#0552a6"/>
<circle cx="384" cy="600" r="0.8" fill="#0a4a92"/>
<circle cx="401.7" cy="599" r="0.7" fill="#0a4a92"/>
<circle cx="509" cy="261.2" r="1.0" fill="#5b9bd5"/>
</svg>
<div class="lab" style="left:233.2px;top:188.4px;color:#d8e3f3">湖州</div><div class="lab" style="left:331.9px;top:204.6px;color:#d8e3f3">嘉兴</div><div class="lab" style="left:183.6px;top:309.2px;color:#d8e3f3">杭州</div><div class="lab" style="left:319.7px;top:318.1px;color:#d8e3f3">绍兴</div><div class="lab" style="left:423.6px;top:318.0px;color:#d8e3f3">宁波</div><div class="lab" style="left:490.2px;top:267.9px;color:#0b2a52">舟山</div><div class="lab" style="left:248.9px;top:409.2px;color:#d8e3f3">金华</div><div class="lab" style="left:108.3px;top:441.8px;color:#d8e3f3">衢州</div><div class="lab" style="left:397.0px;top:443.4px;color:#d8e3f3">台州</div><div class="lab" style="left:195.0px;top:545.4px;color:#d8e3f3">丽水</div><div class="lab" style="left:319.4px;top:568.9px;color:#d8e3f3">温州</div>
<div class="row h hd" style="top:142px;height:38px"><div class="c1" style="height:38px;line-height:38px">地区</div><div class="c2" style="height:38px;line-height:38px">宗数（宗）</div><div class="c3" style="height:38px;line-height:38px">面积（亩）</div></div>
<div class="row l" style="top:181.6px"><div class="c1">湖州</div><div class="c2">1157</div><div class="c3">45038<span class="dt">.</span>94</div></div><div class="row g" style="top:222.4px"><div class="c1">嘉兴</div><div class="c2">771</div><div class="c3">33672<span class="dt">.</span>18</div></div><div class="row l" style="top:263.2px"><div class="c1">舟山</div><div class="c2">83</div><div class="c3">9795<span class="dt">.</span>13</div></div><div class="row g" style="top:304.0px"><div class="c1">宁波</div><div class="c2">887</div><div class="c3">37428<span class="dt">.</span>24</div></div><div class="row l" style="top:344.8px"><div class="c1">杭州</div><div class="c2">753</div><div class="c3">26310<span class="dt">.</span>91</div></div><div class="row g" style="top:385.6px"><div class="c1">绍兴</div><div class="c2">520</div><div class="c3">17309<span class="dt">.</span>08</div></div><div class="row l" style="top:426.4px"><div class="c1">金华</div><div class="c2">810</div><div class="c3">21940<span class="dt">.</span>72</div></div><div class="row g" style="top:467.2px"><div class="c1">台州</div><div class="c2">487</div><div class="c3">21907<span class="dt">.</span>8</div></div><div class="row l" style="top:508.0px"><div class="c1">衢州</div><div class="c2">305</div><div class="c3">13446<span class="dt">.</span>63</div></div><div class="row g" style="top:548.8px"><div class="c1">丽水</div><div class="c2">314</div><div class="c3">10239<span class="dt">.</span>2</div></div><div class="row l" style="top:589.6px"><div class="c1">温州</div><div class="c2">629</div><div class="c3">17962<span class="dt">.</span>77</div></div><div class="row h" style="top:630.4px"><div class="c1">合计</div><div class="c2">6716</div><div class="c3">255051<span class="dt">.</span>6</div></div>
<div class="foot"><b>数据来源：</b>浙江省<span class="fq fql">“</span>标准地<span class="fq fqr">”</span>数字地图</div>
</body></html>
